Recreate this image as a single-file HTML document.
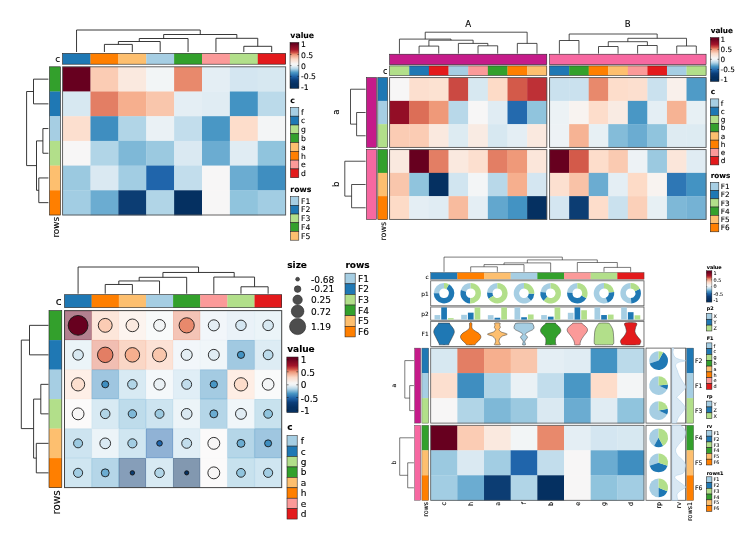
<!DOCTYPE html>
<html><head><meta charset="utf-8"><title>heatmaps</title>
<style>
html,body{margin:0;padding:0;background:#fff;}
svg{display:block;font-family:"DejaVu Sans","Liberation Sans",sans-serif;}
</style></head><body>
<svg width="750" height="533" viewBox="0 0 750 533">
<rect x="0" y="0" width="750" height="533" fill="#fff"/>
<rect x="62.60" y="53.40" width="28.08" height="10.80" fill="#1f78b4"/>
<rect x="90.48" y="53.40" width="28.08" height="10.80" fill="#ff7f00"/>
<rect x="118.36" y="53.40" width="28.08" height="10.80" fill="#fdbf6f"/>
<rect x="146.24" y="53.40" width="28.08" height="10.80" fill="#a6cee3"/>
<rect x="174.12" y="53.40" width="28.08" height="10.80" fill="#33a02c"/>
<rect x="202.00" y="53.40" width="28.08" height="10.80" fill="#fb9a99"/>
<rect x="229.88" y="53.40" width="28.08" height="10.80" fill="#b2df8a"/>
<rect x="257.76" y="53.40" width="28.08" height="10.80" fill="#e31a1c"/>
<rect x="62.60" y="53.40" width="223.04" height="10.80" fill="none" stroke="#222" stroke-width="0.6"/>
<rect x="49.50" y="66.80" width="10.90" height="24.90" fill="#33a02c"/>
<rect x="49.50" y="91.50" width="10.90" height="24.90" fill="#1f78b4"/>
<rect x="49.50" y="116.20" width="10.90" height="24.90" fill="#a6cee3"/>
<rect x="49.50" y="140.90" width="10.90" height="24.90" fill="#b2df8a"/>
<rect x="49.50" y="165.60" width="10.90" height="24.90" fill="#fdbf6f"/>
<rect x="49.50" y="190.30" width="10.90" height="24.90" fill="#ff7f00"/>
<rect x="49.50" y="66.80" width="10.90" height="148.20" fill="none" stroke="#222" stroke-width="0.6"/>
<rect x="62.60" y="66.80" width="28.18" height="25.00" fill="#67001f"/>
<rect x="90.48" y="66.80" width="28.18" height="25.00" fill="#fbccb4"/>
<rect x="118.36" y="66.80" width="28.18" height="25.00" fill="#fae9df"/>
<rect x="146.24" y="66.80" width="28.18" height="25.00" fill="#f2f5f6"/>
<rect x="174.12" y="66.80" width="28.18" height="25.00" fill="#e8896c"/>
<rect x="202.00" y="66.80" width="28.18" height="25.00" fill="#e4eef4"/>
<rect x="229.88" y="66.80" width="28.18" height="25.00" fill="#d4e6f1"/>
<rect x="257.76" y="66.80" width="28.18" height="25.00" fill="#d7e8f1"/>
<rect x="62.60" y="91.50" width="28.18" height="25.00" fill="#d7e8f1"/>
<rect x="90.48" y="91.50" width="28.18" height="25.00" fill="#e37e64"/>
<rect x="118.36" y="91.50" width="28.18" height="25.00" fill="#f6af8e"/>
<rect x="146.24" y="91.50" width="28.18" height="25.00" fill="#f9c6ac"/>
<rect x="174.12" y="91.50" width="28.18" height="25.00" fill="#e4eef4"/>
<rect x="202.00" y="91.50" width="28.18" height="25.00" fill="#e0ecf3"/>
<rect x="229.88" y="91.50" width="28.18" height="25.00" fill="#4393c3"/>
<rect x="257.76" y="91.50" width="28.18" height="25.00" fill="#bbdaea"/>
<rect x="62.60" y="116.20" width="28.18" height="25.00" fill="#fcdfcf"/>
<rect x="90.48" y="116.20" width="28.18" height="25.00" fill="#3f8ec0"/>
<rect x="118.36" y="116.20" width="28.18" height="25.00" fill="#b1d5e7"/>
<rect x="146.24" y="116.20" width="28.18" height="25.00" fill="#eaf1f5"/>
<rect x="174.12" y="116.20" width="28.18" height="25.00" fill="#c2ddec"/>
<rect x="202.00" y="116.20" width="28.18" height="25.00" fill="#4997c5"/>
<rect x="229.88" y="116.20" width="28.18" height="25.00" fill="#fdddcb"/>
<rect x="257.76" y="116.20" width="28.18" height="25.00" fill="#f3f5f6"/>
<rect x="62.60" y="140.90" width="28.18" height="25.00" fill="#f7f6f6"/>
<rect x="90.48" y="140.90" width="28.18" height="25.00" fill="#b1d5e7"/>
<rect x="118.36" y="140.90" width="28.18" height="25.00" fill="#7eb8d7"/>
<rect x="146.24" y="140.90" width="28.18" height="25.00" fill="#9bc9e0"/>
<rect x="174.12" y="140.90" width="28.18" height="25.00" fill="#dae9f2"/>
<rect x="202.00" y="140.90" width="28.18" height="25.00" fill="#6bacd1"/>
<rect x="229.88" y="140.90" width="28.18" height="25.00" fill="#e0ecf3"/>
<rect x="257.76" y="140.90" width="28.18" height="25.00" fill="#90c4dd"/>
<rect x="62.60" y="165.60" width="28.18" height="25.00" fill="#9bc9e0"/>
<rect x="90.48" y="165.60" width="28.18" height="25.00" fill="#dae9f2"/>
<rect x="118.36" y="165.60" width="28.18" height="25.00" fill="#a2cde3"/>
<rect x="146.24" y="165.60" width="28.18" height="25.00" fill="#2065ab"/>
<rect x="174.12" y="165.60" width="28.18" height="25.00" fill="#c2ddec"/>
<rect x="202.00" y="165.60" width="28.18" height="25.00" fill="#f7f6f6"/>
<rect x="229.88" y="165.60" width="28.18" height="25.00" fill="#6bacd1"/>
<rect x="257.76" y="165.60" width="28.18" height="25.00" fill="#3f8ec0"/>
<rect x="62.60" y="190.30" width="28.18" height="25.00" fill="#a2cde3"/>
<rect x="90.48" y="190.30" width="28.18" height="25.00" fill="#6bacd1"/>
<rect x="118.36" y="190.30" width="28.18" height="25.00" fill="#0c3d73"/>
<rect x="146.24" y="190.30" width="28.18" height="25.00" fill="#b1d5e7"/>
<rect x="174.12" y="190.30" width="28.18" height="25.00" fill="#053061"/>
<rect x="202.00" y="190.30" width="28.18" height="25.00" fill="#f7f6f6"/>
<rect x="229.88" y="190.30" width="28.18" height="25.00" fill="#90c4dd"/>
<rect x="257.76" y="190.30" width="28.18" height="25.00" fill="#a2cde3"/>
<rect x="62.60" y="66.80" width="223.04" height="148.20" fill="none" stroke="#555" stroke-width="0.9"/>
<path d="M104.42 52.00V44.40H132.30V52.00M118.36 44.40V41.50H160.18V52.00M139.27 41.50V38.50H188.06V52.00M243.82 52.00V46.30H271.70V52.00M215.94 52.00V38.30H257.76V46.30M163.67 38.50V34.50H236.85V38.30M76.54 52.00V30.00H200.26V34.50" fill="none" stroke="#222" stroke-width="0.9"/>
<path d="M48.40 79.15H33.50V103.85H48.40M48.40 128.55H42.90V153.25H48.40M48.40 177.95H38.80V202.65H48.40M42.90 140.90H36.50V190.30H38.80M33.50 91.50H26.60V165.60H36.50" fill="none" stroke="#222" stroke-width="0.9"/>
<text x="60.30" y="62.30" font-size="9.0" text-anchor="end" fill="#000" stroke="#000" stroke-width="0.11">c</text>
<text x="58.60" y="217.00" font-size="8.8" text-anchor="end" fill="#000" stroke="#000" stroke-width="0.11" transform="rotate(-90 58.60 217.00)">rows</text>
<text x="290.30" y="37.80" font-size="7.8" font-weight="bold" text-anchor="start" fill="#000" stroke="#000" stroke-width="0.09">value</text>
<defs><linearGradient id="cb1" x1="0" y1="0" x2="0" y2="1"><stop offset="0.000" stop-color="#67001f"/><stop offset="0.030" stop-color="#67001f"/><stop offset="0.156" stop-color="#a3142a"/><stop offset="0.220" stop-color="#d05045"/><stop offset="0.265" stop-color="#ee9677"/><stop offset="0.365" stop-color="#fbd9c7"/><stop offset="0.470" stop-color="#f6f6f6"/><stop offset="0.506" stop-color="#eef3f6"/><stop offset="0.573" stop-color="#b5d6e8"/><stop offset="0.656" stop-color="#4a97c5"/><stop offset="0.740" stop-color="#1f63a8"/><stop offset="0.820" stop-color="#0b3d78"/><stop offset="0.906" stop-color="#053061"/><stop offset="1.000" stop-color="#053061"/></linearGradient></defs>
<rect x="290.00" y="42.40" width="8.90" height="46.00" fill="url(#cb1)" stroke="#222" stroke-width="0.5"/>
<path d="M290.00 43.80h1.5M298.90 43.80h-1.5M290.00 54.50h1.5M298.90 54.50h-1.5M290.00 65.60h1.5M298.90 65.60h-1.5M290.00 76.40h1.5M298.90 76.40h-1.5M290.00 87.10h1.5M298.90 87.10h-1.5" fill="none" stroke="#111" stroke-width="0.5"/>
<text x="301.00" y="46.60" font-size="7.7" text-anchor="start" fill="#000" stroke="#000" stroke-width="0.09">1</text>
<text x="301.00" y="57.80" font-size="7.7" text-anchor="start" fill="#000" stroke="#000" stroke-width="0.09">0.5</text>
<text x="301.00" y="68.50" font-size="7.7" text-anchor="start" fill="#000" stroke="#000" stroke-width="0.09">0</text>
<text x="301.00" y="79.00" font-size="7.7" text-anchor="start" fill="#000" stroke="#000" stroke-width="0.09">-0.5</text>
<text x="301.00" y="90.10" font-size="7.7" text-anchor="start" fill="#000" stroke="#000" stroke-width="0.09">-1</text>
<text x="290.30" y="102.70" font-size="7.8" font-weight="bold" text-anchor="start" fill="#000" stroke="#000" stroke-width="0.09">c</text>
<rect x="290.50" y="107.40" width="8.30" height="8.79" fill="#a6cee3" stroke="#222" stroke-width="0.55"/>
<text x="301.00" y="114.57" font-size="7.7" text-anchor="start" fill="#000" stroke="#000" stroke-width="0.09">f</text>
<rect x="290.50" y="116.19" width="8.30" height="8.79" fill="#1f78b4" stroke="#222" stroke-width="0.55"/>
<text x="301.00" y="123.36" font-size="7.7" text-anchor="start" fill="#000" stroke="#000" stroke-width="0.09">c</text>
<rect x="290.50" y="124.98" width="8.30" height="8.79" fill="#b2df8a" stroke="#222" stroke-width="0.55"/>
<text x="301.00" y="132.15" font-size="7.7" text-anchor="start" fill="#000" stroke="#000" stroke-width="0.09">g</text>
<rect x="290.50" y="133.77" width="8.30" height="8.79" fill="#33a02c" stroke="#222" stroke-width="0.55"/>
<text x="301.00" y="140.94" font-size="7.7" text-anchor="start" fill="#000" stroke="#000" stroke-width="0.09">b</text>
<rect x="290.50" y="142.56" width="8.30" height="8.79" fill="#fdbf6f" stroke="#222" stroke-width="0.55"/>
<text x="301.00" y="149.73" font-size="7.7" text-anchor="start" fill="#000" stroke="#000" stroke-width="0.09">a</text>
<rect x="290.50" y="151.35" width="8.30" height="8.79" fill="#ff7f00" stroke="#222" stroke-width="0.55"/>
<text x="301.00" y="158.52" font-size="7.7" text-anchor="start" fill="#000" stroke="#000" stroke-width="0.09">h</text>
<rect x="290.50" y="160.14" width="8.30" height="8.79" fill="#fb9a99" stroke="#222" stroke-width="0.55"/>
<text x="301.00" y="167.31" font-size="7.7" text-anchor="start" fill="#000" stroke="#000" stroke-width="0.09">e</text>
<rect x="290.50" y="168.93" width="8.30" height="8.79" fill="#e31a1c" stroke="#222" stroke-width="0.55"/>
<text x="301.00" y="176.10" font-size="7.7" text-anchor="start" fill="#000" stroke="#000" stroke-width="0.09">d</text>
<text x="290.30" y="191.60" font-size="7.8" font-weight="bold" text-anchor="start" fill="#000" stroke="#000" stroke-width="0.09">rows</text>
<rect x="290.50" y="196.60" width="8.30" height="8.72" fill="#a6cee3" stroke="#222" stroke-width="0.55"/>
<text x="301.00" y="203.73" font-size="7.7" text-anchor="start" fill="#000" stroke="#000" stroke-width="0.09">F1</text>
<rect x="290.50" y="205.32" width="8.30" height="8.72" fill="#1f78b4" stroke="#222" stroke-width="0.55"/>
<text x="301.00" y="212.45" font-size="7.7" text-anchor="start" fill="#000" stroke="#000" stroke-width="0.09">F2</text>
<rect x="290.50" y="214.04" width="8.30" height="8.72" fill="#b2df8a" stroke="#222" stroke-width="0.55"/>
<text x="301.00" y="221.17" font-size="7.7" text-anchor="start" fill="#000" stroke="#000" stroke-width="0.09">F3</text>
<rect x="290.50" y="222.76" width="8.30" height="8.72" fill="#33a02c" stroke="#222" stroke-width="0.55"/>
<text x="301.00" y="229.89" font-size="7.7" text-anchor="start" fill="#000" stroke="#000" stroke-width="0.09">F4</text>
<rect x="290.50" y="231.48" width="8.30" height="8.72" fill="#fdbf6f" stroke="#222" stroke-width="0.55"/>
<text x="301.00" y="238.61" font-size="7.7" text-anchor="start" fill="#000" stroke="#000" stroke-width="0.09">F5</text>
<rect x="389.60" y="54.20" width="157.20" height="10.50" fill="#c51b8a" stroke="#222" stroke-width="0.55"/>
<rect x="549.60" y="54.20" width="156.48" height="10.50" fill="#f768a1" stroke="#222" stroke-width="0.55"/>
<rect x="389.60" y="65.90" width="19.85" height="9.50" fill="#b2df8a"/>
<rect x="409.25" y="65.90" width="19.85" height="9.50" fill="#1f78b4"/>
<rect x="428.90" y="65.90" width="19.85" height="9.50" fill="#e31a1c"/>
<rect x="448.55" y="65.90" width="19.85" height="9.50" fill="#a6cee3"/>
<rect x="468.20" y="65.90" width="19.85" height="9.50" fill="#fb9a99"/>
<rect x="487.85" y="65.90" width="19.85" height="9.50" fill="#33a02c"/>
<rect x="507.50" y="65.90" width="19.85" height="9.50" fill="#ff7f00"/>
<rect x="527.15" y="65.90" width="19.85" height="9.50" fill="#fdbf6f"/>
<rect x="549.60" y="65.90" width="19.76" height="9.50" fill="#1f78b4"/>
<rect x="569.16" y="65.90" width="19.76" height="9.50" fill="#33a02c"/>
<rect x="588.72" y="65.90" width="19.76" height="9.50" fill="#ff7f00"/>
<rect x="608.28" y="65.90" width="19.76" height="9.50" fill="#fdbf6f"/>
<rect x="627.84" y="65.90" width="19.76" height="9.50" fill="#fb9a99"/>
<rect x="647.40" y="65.90" width="19.76" height="9.50" fill="#e31a1c"/>
<rect x="666.96" y="65.90" width="19.76" height="9.50" fill="#a6cee3"/>
<rect x="686.52" y="65.90" width="19.76" height="9.50" fill="#b2df8a"/>
<rect x="389.60" y="65.90" width="157.20" height="9.50" fill="none" stroke="#222" stroke-width="0.55"/>
<rect x="549.60" y="65.90" width="156.48" height="9.50" fill="none" stroke="#222" stroke-width="0.55"/>
<rect x="366.50" y="77.60" width="9.90" height="69.81" fill="#c51b8a" stroke="#222" stroke-width="0.55"/>
<rect x="377.80" y="77.60" width="9.70" height="23.47" fill="#1f78b4"/>
<rect x="389.60" y="77.60" width="19.95" height="23.57" fill="#f7f6f6"/>
<rect x="549.60" y="77.60" width="19.86" height="23.57" fill="#cae1ee"/>
<rect x="409.25" y="77.60" width="19.95" height="23.57" fill="#fcdfcf"/>
<rect x="569.16" y="77.60" width="19.86" height="23.57" fill="#cae1ee"/>
<rect x="428.90" y="77.60" width="19.95" height="23.57" fill="#fce2d2"/>
<rect x="588.72" y="77.60" width="19.86" height="23.57" fill="#e8896c"/>
<rect x="448.55" y="77.60" width="19.95" height="23.57" fill="#cb4942"/>
<rect x="608.28" y="77.60" width="19.86" height="23.57" fill="#fdddcb"/>
<rect x="468.20" y="77.60" width="19.95" height="23.57" fill="#d7e8f1"/>
<rect x="627.84" y="77.60" width="19.86" height="23.57" fill="#fcdfcf"/>
<rect x="487.85" y="77.60" width="19.95" height="23.57" fill="#fddbc7"/>
<rect x="647.40" y="77.60" width="19.86" height="23.57" fill="#cae1ee"/>
<rect x="507.50" y="77.60" width="19.95" height="23.57" fill="#d35a4a"/>
<rect x="666.96" y="77.60" width="19.86" height="23.57" fill="#f9f0eb"/>
<rect x="527.15" y="77.60" width="19.95" height="23.57" fill="#be3036"/>
<rect x="686.52" y="77.60" width="19.86" height="23.57" fill="#4f9bc7"/>
<rect x="377.80" y="100.87" width="9.70" height="23.47" fill="#a6cee3"/>
<rect x="389.60" y="100.87" width="19.95" height="23.57" fill="#930e26"/>
<rect x="549.60" y="100.87" width="19.86" height="23.57" fill="#ecf2f5"/>
<rect x="409.25" y="100.87" width="19.95" height="23.57" fill="#dc6e57"/>
<rect x="569.16" y="100.87" width="19.86" height="23.57" fill="#f8f3f0"/>
<rect x="428.90" y="100.87" width="19.95" height="23.57" fill="#ef9979"/>
<rect x="588.72" y="100.87" width="19.86" height="23.57" fill="#fdddcb"/>
<rect x="448.55" y="100.87" width="19.95" height="23.57" fill="#b8d8e9"/>
<rect x="608.28" y="100.87" width="19.86" height="23.57" fill="#f9ebe3"/>
<rect x="468.20" y="100.87" width="19.95" height="23.57" fill="#f7f6f6"/>
<rect x="627.84" y="100.87" width="19.86" height="23.57" fill="#4997c5"/>
<rect x="487.85" y="100.87" width="19.95" height="23.57" fill="#e0ecf3"/>
<rect x="647.40" y="100.87" width="19.86" height="23.57" fill="#e4eef4"/>
<rect x="507.50" y="100.87" width="19.95" height="23.57" fill="#246aae"/>
<rect x="666.96" y="100.87" width="19.86" height="23.57" fill="#f6b394"/>
<rect x="527.15" y="100.87" width="19.95" height="23.57" fill="#90c4dd"/>
<rect x="686.52" y="100.87" width="19.86" height="23.57" fill="#e7f0f4"/>
<rect x="377.80" y="124.14" width="9.70" height="23.47" fill="#b2df8a"/>
<rect x="389.60" y="124.14" width="19.95" height="23.57" fill="#fbccb4"/>
<rect x="549.60" y="124.14" width="19.86" height="23.57" fill="#edf2f5"/>
<rect x="409.25" y="124.14" width="19.95" height="23.57" fill="#fbccb4"/>
<rect x="569.16" y="124.14" width="19.86" height="23.57" fill="#f6b394"/>
<rect x="428.90" y="124.14" width="19.95" height="23.57" fill="#fae9df"/>
<rect x="588.72" y="124.14" width="19.86" height="23.57" fill="#e7f0f4"/>
<rect x="448.55" y="124.14" width="19.95" height="23.57" fill="#ddebf2"/>
<rect x="608.28" y="124.14" width="19.86" height="23.57" fill="#84bcd9"/>
<rect x="468.20" y="124.14" width="19.95" height="23.57" fill="#f9ebe3"/>
<rect x="627.84" y="124.14" width="19.86" height="23.57" fill="#6bacd1"/>
<rect x="487.85" y="124.14" width="19.95" height="23.57" fill="#d7e8f1"/>
<rect x="647.40" y="124.14" width="19.86" height="23.57" fill="#90c4dd"/>
<rect x="507.50" y="124.14" width="19.95" height="23.57" fill="#e4eef4"/>
<rect x="666.96" y="124.14" width="19.86" height="23.57" fill="#deebf2"/>
<rect x="527.15" y="124.14" width="19.95" height="23.57" fill="#fae9df"/>
<rect x="686.52" y="124.14" width="19.86" height="23.57" fill="#ddebf2"/>
<rect x="377.80" y="77.60" width="9.70" height="69.81" fill="none" stroke="#222" stroke-width="0.55"/>
<rect x="389.60" y="77.60" width="157.20" height="69.81" fill="none" stroke="#555" stroke-width="0.9"/>
<rect x="549.60" y="77.60" width="156.48" height="69.81" fill="none" stroke="#555" stroke-width="0.9"/>
<rect x="366.50" y="149.60" width="9.90" height="69.81" fill="#f768a1" stroke="#222" stroke-width="0.55"/>
<rect x="377.80" y="149.60" width="9.70" height="23.47" fill="#33a02c"/>
<rect x="389.60" y="149.60" width="19.95" height="23.57" fill="#fae9df"/>
<rect x="549.60" y="149.60" width="19.86" height="23.57" fill="#67001f"/>
<rect x="409.25" y="149.60" width="19.95" height="23.57" fill="#67001f"/>
<rect x="569.16" y="149.60" width="19.86" height="23.57" fill="#d35a4a"/>
<rect x="428.90" y="149.60" width="19.95" height="23.57" fill="#e37e64"/>
<rect x="588.72" y="149.60" width="19.86" height="23.57" fill="#fdddcb"/>
<rect x="448.55" y="149.60" width="19.95" height="23.57" fill="#fae9df"/>
<rect x="608.28" y="149.60" width="19.86" height="23.57" fill="#facab1"/>
<rect x="468.20" y="149.60" width="19.95" height="23.57" fill="#fcdfcf"/>
<rect x="627.84" y="149.60" width="19.86" height="23.57" fill="#edf2f5"/>
<rect x="487.85" y="149.60" width="19.95" height="23.57" fill="#e37e64"/>
<rect x="647.40" y="149.60" width="19.86" height="23.57" fill="#9bc9e0"/>
<rect x="507.50" y="149.60" width="19.95" height="23.57" fill="#ef9979"/>
<rect x="666.96" y="149.60" width="19.86" height="23.57" fill="#fbe6da"/>
<rect x="527.15" y="149.60" width="19.95" height="23.57" fill="#fbe6da"/>
<rect x="686.52" y="149.60" width="19.86" height="23.57" fill="#e0ecf3"/>
<rect x="377.80" y="172.87" width="9.70" height="23.47" fill="#fdbf6f"/>
<rect x="389.60" y="172.87" width="19.95" height="23.57" fill="#f9c6ac"/>
<rect x="549.60" y="172.87" width="19.86" height="23.57" fill="#fce0d0"/>
<rect x="409.25" y="172.87" width="19.95" height="23.57" fill="#90c4dd"/>
<rect x="569.16" y="172.87" width="19.86" height="23.57" fill="#f9c2a7"/>
<rect x="428.90" y="172.87" width="19.95" height="23.57" fill="#053061"/>
<rect x="588.72" y="172.87" width="19.86" height="23.57" fill="#6bacd1"/>
<rect x="448.55" y="172.87" width="19.95" height="23.57" fill="#d1e5f0"/>
<rect x="608.28" y="172.87" width="19.86" height="23.57" fill="#e4eef4"/>
<rect x="468.20" y="172.87" width="19.95" height="23.57" fill="#f3f5f6"/>
<rect x="627.84" y="172.87" width="19.86" height="23.57" fill="#fddbc7"/>
<rect x="487.85" y="172.87" width="19.95" height="23.57" fill="#b8d8e9"/>
<rect x="647.40" y="172.87" width="19.86" height="23.57" fill="#f8f3f0"/>
<rect x="507.50" y="172.87" width="19.95" height="23.57" fill="#f6af8e"/>
<rect x="666.96" y="172.87" width="19.86" height="23.57" fill="#2e77b5"/>
<rect x="527.15" y="172.87" width="19.95" height="23.57" fill="#d4e6f1"/>
<rect x="686.52" y="172.87" width="19.86" height="23.57" fill="#4393c3"/>
<rect x="377.80" y="196.14" width="9.70" height="23.47" fill="#ff7f00"/>
<rect x="389.60" y="196.14" width="19.95" height="23.57" fill="#fddbc7"/>
<rect x="549.60" y="196.14" width="19.86" height="23.57" fill="#d4e6f1"/>
<rect x="409.25" y="196.14" width="19.95" height="23.57" fill="#e4eef4"/>
<rect x="569.16" y="196.14" width="19.86" height="23.57" fill="#0c3d73"/>
<rect x="428.90" y="196.14" width="19.95" height="23.57" fill="#e0ecf3"/>
<rect x="588.72" y="196.14" width="19.86" height="23.57" fill="#fdddcb"/>
<rect x="448.55" y="196.14" width="19.95" height="23.57" fill="#f8bb9e"/>
<rect x="608.28" y="196.14" width="19.86" height="23.57" fill="#cae1ee"/>
<rect x="468.20" y="196.14" width="19.95" height="23.57" fill="#e4eef4"/>
<rect x="627.84" y="196.14" width="19.86" height="23.57" fill="#fbd0b9"/>
<rect x="487.85" y="196.14" width="19.95" height="23.57" fill="#62a7ce"/>
<rect x="647.40" y="196.14" width="19.86" height="23.57" fill="#e7f0f4"/>
<rect x="507.50" y="196.14" width="19.95" height="23.57" fill="#4393c3"/>
<rect x="666.96" y="196.14" width="19.86" height="23.57" fill="#7eb8d7"/>
<rect x="527.15" y="196.14" width="19.95" height="23.57" fill="#053061"/>
<rect x="686.52" y="196.14" width="19.86" height="23.57" fill="#75b2d4"/>
<rect x="377.80" y="149.60" width="9.70" height="69.81" fill="none" stroke="#222" stroke-width="0.55"/>
<rect x="389.60" y="149.60" width="157.20" height="69.81" fill="none" stroke="#555" stroke-width="0.9"/>
<rect x="549.60" y="149.60" width="156.48" height="69.81" fill="none" stroke="#555" stroke-width="0.9"/>
<path d="M419.08 53.60V46.10H438.73V53.60M478.03 53.60V45.80H497.68V53.60M458.38 53.60V43.40H487.85V45.80M428.90 46.10V40.20H473.11V43.40M399.43 53.60V39.10H451.01V40.20M517.33 53.60V43.40H536.98V53.60M425.22 39.10V32.20H527.15V43.40" fill="none" stroke="#222" stroke-width="0.8"/>
<path d="M559.38 53.60V40.50H578.94V53.60M598.50 53.60V46.50H618.06V53.60M637.62 53.60V45.50H657.18V53.60M608.28 46.50V41.70H647.40V45.50M676.74 53.60V46.00H696.30V53.60M627.84 41.70V38.30H686.52V46.00M569.16 40.50V34.00H657.18V38.30" fill="none" stroke="#222" stroke-width="0.8"/>
<path d="M365.60 112.50H356.60V135.77H365.60M365.60 89.23H350.50V124.14H356.60" fill="none" stroke="#222" stroke-width="0.8"/>
<path d="M365.60 184.50H351.60V207.77H365.60M365.60 161.23H344.80V196.14H351.60" fill="none" stroke="#222" stroke-width="0.8"/>
<text x="468.10" y="26.80" font-size="8.6" text-anchor="middle" fill="#000" stroke="#000" stroke-width="0.10">A</text>
<text x="627.80" y="26.80" font-size="8.6" text-anchor="middle" fill="#000" stroke="#000" stroke-width="0.10">B</text>
<text x="387.40" y="73.70" font-size="8.1" text-anchor="end" fill="#000" stroke="#000" stroke-width="0.10">c</text>
<text x="385.80" y="222.00" font-size="7.9" text-anchor="end" fill="#000" stroke="#000" stroke-width="0.09" transform="rotate(-90 385.80 222.00)">rows</text>
<text x="339.10" y="112.20" font-size="8.6" text-anchor="middle" fill="#000" stroke="#000" stroke-width="0.10" transform="rotate(-90 339.10 112.20)">a</text>
<text x="339.10" y="184.20" font-size="8.6" text-anchor="middle" fill="#000" stroke="#000" stroke-width="0.10" transform="rotate(-90 339.10 184.20)">b</text>
<text x="710.70" y="32.80" font-size="7.3" font-weight="bold" text-anchor="start" fill="#000" stroke="#000" stroke-width="0.09">value</text>
<defs><linearGradient id="cb2" x1="0" y1="0" x2="0" y2="1"><stop offset="0.000" stop-color="#67001f"/><stop offset="0.030" stop-color="#67001f"/><stop offset="0.156" stop-color="#a3142a"/><stop offset="0.220" stop-color="#d05045"/><stop offset="0.265" stop-color="#ee9677"/><stop offset="0.365" stop-color="#fbd9c7"/><stop offset="0.470" stop-color="#f6f6f6"/><stop offset="0.506" stop-color="#eef3f6"/><stop offset="0.573" stop-color="#b5d6e8"/><stop offset="0.656" stop-color="#4a97c5"/><stop offset="0.740" stop-color="#1f63a8"/><stop offset="0.820" stop-color="#0b3d78"/><stop offset="0.906" stop-color="#053061"/><stop offset="1.000" stop-color="#053061"/></linearGradient></defs>
<rect x="710.30" y="37.50" width="8.70" height="44.00" fill="url(#cb2)" stroke="#222" stroke-width="0.5"/>
<path d="M710.30 39.60h1.5M719.00 39.60h-1.5M710.30 49.40h1.5M719.00 49.40h-1.5M710.30 59.30h1.5M719.00 59.30h-1.5M710.30 69.50h1.5M719.00 69.50h-1.5M710.30 79.80h1.5M719.00 79.80h-1.5" fill="none" stroke="#111" stroke-width="0.5"/>
<text x="720.60" y="42.25" font-size="7.3" text-anchor="start" fill="#000" stroke="#000" stroke-width="0.09">1</text>
<text x="720.60" y="52.05" font-size="7.3" text-anchor="start" fill="#000" stroke="#000" stroke-width="0.09">0.5</text>
<text x="720.60" y="61.95" font-size="7.3" text-anchor="start" fill="#000" stroke="#000" stroke-width="0.09">0</text>
<text x="720.60" y="72.15" font-size="7.3" text-anchor="start" fill="#000" stroke="#000" stroke-width="0.09">-0.5</text>
<text x="720.60" y="82.45" font-size="7.3" text-anchor="start" fill="#000" stroke="#000" stroke-width="0.09">-1</text>
<text x="710.70" y="94.10" font-size="7.3" font-weight="bold" text-anchor="start" fill="#000" stroke="#000" stroke-width="0.09">c</text>
<rect x="710.30" y="98.90" width="8.50" height="8.25" fill="#a6cee3" stroke="#222" stroke-width="0.55"/>
<text x="720.70" y="105.65" font-size="7.3" text-anchor="start" fill="#000" stroke="#000" stroke-width="0.09">f</text>
<rect x="710.30" y="107.15" width="8.50" height="8.25" fill="#1f78b4" stroke="#222" stroke-width="0.55"/>
<text x="720.70" y="113.90" font-size="7.3" text-anchor="start" fill="#000" stroke="#000" stroke-width="0.09">c</text>
<rect x="710.30" y="115.40" width="8.50" height="8.25" fill="#b2df8a" stroke="#222" stroke-width="0.55"/>
<text x="720.70" y="122.15" font-size="7.3" text-anchor="start" fill="#000" stroke="#000" stroke-width="0.09">g</text>
<rect x="710.30" y="123.65" width="8.50" height="8.25" fill="#33a02c" stroke="#222" stroke-width="0.55"/>
<text x="720.70" y="130.40" font-size="7.3" text-anchor="start" fill="#000" stroke="#000" stroke-width="0.09">b</text>
<rect x="710.30" y="131.90" width="8.50" height="8.25" fill="#fdbf6f" stroke="#222" stroke-width="0.55"/>
<text x="720.70" y="138.65" font-size="7.3" text-anchor="start" fill="#000" stroke="#000" stroke-width="0.09">a</text>
<rect x="710.30" y="140.15" width="8.50" height="8.25" fill="#ff7f00" stroke="#222" stroke-width="0.55"/>
<text x="720.70" y="146.90" font-size="7.3" text-anchor="start" fill="#000" stroke="#000" stroke-width="0.09">h</text>
<rect x="710.30" y="148.40" width="8.50" height="8.25" fill="#fb9a99" stroke="#222" stroke-width="0.55"/>
<text x="720.70" y="155.15" font-size="7.3" text-anchor="start" fill="#000" stroke="#000" stroke-width="0.09">e</text>
<rect x="710.30" y="156.65" width="8.50" height="8.25" fill="#e31a1c" stroke="#222" stroke-width="0.55"/>
<text x="720.70" y="163.40" font-size="7.3" text-anchor="start" fill="#000" stroke="#000" stroke-width="0.09">d</text>
<text x="710.70" y="178.00" font-size="7.3" font-weight="bold" text-anchor="start" fill="#000" stroke="#000" stroke-width="0.09">rows</text>
<rect x="710.30" y="182.30" width="8.50" height="8.25" fill="#a6cee3" stroke="#222" stroke-width="0.55"/>
<text x="720.70" y="189.05" font-size="7.3" text-anchor="start" fill="#000" stroke="#000" stroke-width="0.09">F1</text>
<rect x="710.30" y="190.55" width="8.50" height="8.25" fill="#1f78b4" stroke="#222" stroke-width="0.55"/>
<text x="720.70" y="197.30" font-size="7.3" text-anchor="start" fill="#000" stroke="#000" stroke-width="0.09">F2</text>
<rect x="710.30" y="198.80" width="8.50" height="8.25" fill="#b2df8a" stroke="#222" stroke-width="0.55"/>
<text x="720.70" y="205.55" font-size="7.3" text-anchor="start" fill="#000" stroke="#000" stroke-width="0.09">F3</text>
<rect x="710.30" y="207.05" width="8.50" height="8.25" fill="#33a02c" stroke="#222" stroke-width="0.55"/>
<text x="720.70" y="213.80" font-size="7.3" text-anchor="start" fill="#000" stroke="#000" stroke-width="0.09">F4</text>
<rect x="710.30" y="215.30" width="8.50" height="8.25" fill="#fdbf6f" stroke="#222" stroke-width="0.55"/>
<text x="720.70" y="222.05" font-size="7.3" text-anchor="start" fill="#000" stroke="#000" stroke-width="0.09">F5</text>
<rect x="710.30" y="223.55" width="8.50" height="8.25" fill="#ff7f00" stroke="#222" stroke-width="0.55"/>
<text x="720.70" y="230.30" font-size="7.3" text-anchor="start" fill="#000" stroke="#000" stroke-width="0.09">F6</text>
<rect x="64.50" y="294.70" width="27.35" height="12.90" fill="#1f78b4"/>
<rect x="91.65" y="294.70" width="27.35" height="12.90" fill="#ff7f00"/>
<rect x="118.80" y="294.70" width="27.35" height="12.90" fill="#fdbf6f"/>
<rect x="145.95" y="294.70" width="27.35" height="12.90" fill="#a6cee3"/>
<rect x="173.10" y="294.70" width="27.35" height="12.90" fill="#33a02c"/>
<rect x="200.25" y="294.70" width="27.35" height="12.90" fill="#fb9a99"/>
<rect x="227.40" y="294.70" width="27.35" height="12.90" fill="#b2df8a"/>
<rect x="254.55" y="294.70" width="27.35" height="12.90" fill="#e31a1c"/>
<rect x="64.50" y="294.70" width="217.20" height="12.90" fill="none" stroke="#222" stroke-width="0.6"/>
<rect x="49.00" y="310.60" width="12.80" height="29.70" fill="#33a02c"/>
<rect x="49.00" y="340.10" width="12.80" height="29.70" fill="#1f78b4"/>
<rect x="49.00" y="369.60" width="12.80" height="29.70" fill="#a6cee3"/>
<rect x="49.00" y="399.10" width="12.80" height="29.70" fill="#b2df8a"/>
<rect x="49.00" y="428.60" width="12.80" height="29.70" fill="#fdbf6f"/>
<rect x="49.00" y="458.10" width="12.80" height="29.70" fill="#ff7f00"/>
<rect x="49.00" y="310.60" width="12.80" height="177.00" fill="none" stroke="#222" stroke-width="0.6"/>
<rect x="64.50" y="310.60" width="27.45" height="29.80" fill="#b3808f"/>
<rect x="91.65" y="310.60" width="27.45" height="29.80" fill="#fde6da"/>
<rect x="118.80" y="310.60" width="27.45" height="29.80" fill="#fcf4ef"/>
<rect x="145.95" y="310.60" width="27.45" height="29.80" fill="#f8fafa"/>
<rect x="173.10" y="310.60" width="27.45" height="29.80" fill="#f4c4b6"/>
<rect x="200.25" y="310.60" width="27.45" height="29.80" fill="#f2f6fa"/>
<rect x="227.40" y="310.60" width="27.45" height="29.80" fill="#eaf2f8"/>
<rect x="254.55" y="310.60" width="27.45" height="29.80" fill="#ebf4f8"/>
<rect x="64.50" y="340.10" width="27.45" height="29.80" fill="#ebf4f8"/>
<rect x="91.65" y="340.10" width="27.45" height="29.80" fill="#f1beb2"/>
<rect x="118.80" y="340.10" width="27.45" height="29.80" fill="#fad7c6"/>
<rect x="145.95" y="340.10" width="27.45" height="29.80" fill="#fce2d6"/>
<rect x="173.10" y="340.10" width="27.45" height="29.80" fill="#f2f6fa"/>
<rect x="200.25" y="340.10" width="27.45" height="29.80" fill="#f0f6f9"/>
<rect x="227.40" y="340.10" width="27.45" height="29.80" fill="#a1c9e1"/>
<rect x="254.55" y="340.10" width="27.45" height="29.80" fill="#ddecf4"/>
<rect x="64.50" y="369.60" width="27.45" height="29.80" fill="#feefe7"/>
<rect x="91.65" y="369.60" width="27.45" height="29.80" fill="#9fc6e0"/>
<rect x="118.80" y="369.60" width="27.45" height="29.80" fill="#d8eaf3"/>
<rect x="145.95" y="369.60" width="27.45" height="29.80" fill="#f4f8fa"/>
<rect x="173.10" y="369.60" width="27.45" height="29.80" fill="#e0eef6"/>
<rect x="200.25" y="369.60" width="27.45" height="29.80" fill="#a4cbe2"/>
<rect x="227.40" y="369.60" width="27.45" height="29.80" fill="#feeee5"/>
<rect x="254.55" y="369.60" width="27.45" height="29.80" fill="#f9fafa"/>
<rect x="64.50" y="399.10" width="27.45" height="29.80" fill="#fbfafa"/>
<rect x="91.65" y="399.10" width="27.45" height="29.80" fill="#d8eaf3"/>
<rect x="118.80" y="399.10" width="27.45" height="29.80" fill="#bedceb"/>
<rect x="145.95" y="399.10" width="27.45" height="29.80" fill="#cde4f0"/>
<rect x="173.10" y="399.10" width="27.45" height="29.80" fill="#ecf4f8"/>
<rect x="200.25" y="399.10" width="27.45" height="29.80" fill="#b5d6e8"/>
<rect x="227.40" y="399.10" width="27.45" height="29.80" fill="#f0f6f9"/>
<rect x="254.55" y="399.10" width="27.45" height="29.80" fill="#c8e2ee"/>
<rect x="64.50" y="428.60" width="27.45" height="29.80" fill="#cde4f0"/>
<rect x="91.65" y="428.60" width="27.45" height="29.80" fill="#ecf4f8"/>
<rect x="118.80" y="428.60" width="27.45" height="29.80" fill="#d0e6f1"/>
<rect x="145.95" y="428.60" width="27.45" height="29.80" fill="#90b2d5"/>
<rect x="173.10" y="428.60" width="27.45" height="29.80" fill="#e0eef6"/>
<rect x="200.25" y="428.60" width="27.45" height="29.80" fill="#fbfafa"/>
<rect x="227.40" y="428.60" width="27.45" height="29.80" fill="#b5d6e8"/>
<rect x="254.55" y="428.60" width="27.45" height="29.80" fill="#9fc6e0"/>
<rect x="64.50" y="458.10" width="27.45" height="29.80" fill="#d0e6f1"/>
<rect x="91.65" y="458.10" width="27.45" height="29.80" fill="#b5d6e8"/>
<rect x="118.80" y="458.10" width="27.45" height="29.80" fill="#869eb9"/>
<rect x="145.95" y="458.10" width="27.45" height="29.80" fill="#d8eaf3"/>
<rect x="173.10" y="458.10" width="27.45" height="29.80" fill="#8298b0"/>
<rect x="200.25" y="458.10" width="27.45" height="29.80" fill="#fbfafa"/>
<rect x="227.40" y="458.10" width="27.45" height="29.80" fill="#c8e2ee"/>
<rect x="254.55" y="458.10" width="27.45" height="29.80" fill="#d0e6f1"/>
<rect x="64.80" y="310.90" width="26.55" height="28.90" fill="none" stroke="#67001f" stroke-width="0.6" stroke-opacity="0.35"/>
<rect x="91.95" y="310.90" width="26.55" height="28.90" fill="none" stroke="#fbccb4" stroke-width="0.6" stroke-opacity="0.35"/>
<rect x="119.10" y="310.90" width="26.55" height="28.90" fill="none" stroke="#fae9df" stroke-width="0.6" stroke-opacity="0.35"/>
<rect x="146.25" y="310.90" width="26.55" height="28.90" fill="none" stroke="#f2f5f6" stroke-width="0.6" stroke-opacity="0.35"/>
<rect x="173.40" y="310.90" width="26.55" height="28.90" fill="none" stroke="#e8896c" stroke-width="0.6" stroke-opacity="0.35"/>
<rect x="200.55" y="310.90" width="26.55" height="28.90" fill="none" stroke="#e4eef4" stroke-width="0.6" stroke-opacity="0.35"/>
<rect x="227.70" y="310.90" width="26.55" height="28.90" fill="none" stroke="#d4e6f1" stroke-width="0.6" stroke-opacity="0.35"/>
<rect x="254.85" y="310.90" width="26.55" height="28.90" fill="none" stroke="#d7e8f1" stroke-width="0.6" stroke-opacity="0.35"/>
<rect x="64.80" y="340.40" width="26.55" height="28.90" fill="none" stroke="#d7e8f1" stroke-width="0.6" stroke-opacity="0.35"/>
<rect x="91.95" y="340.40" width="26.55" height="28.90" fill="none" stroke="#e37e64" stroke-width="0.6" stroke-opacity="0.35"/>
<rect x="119.10" y="340.40" width="26.55" height="28.90" fill="none" stroke="#f6af8e" stroke-width="0.6" stroke-opacity="0.35"/>
<rect x="146.25" y="340.40" width="26.55" height="28.90" fill="none" stroke="#f9c6ac" stroke-width="0.6" stroke-opacity="0.35"/>
<rect x="173.40" y="340.40" width="26.55" height="28.90" fill="none" stroke="#e4eef4" stroke-width="0.6" stroke-opacity="0.35"/>
<rect x="200.55" y="340.40" width="26.55" height="28.90" fill="none" stroke="#e0ecf3" stroke-width="0.6" stroke-opacity="0.35"/>
<rect x="227.70" y="340.40" width="26.55" height="28.90" fill="none" stroke="#4393c3" stroke-width="0.6" stroke-opacity="0.35"/>
<rect x="254.85" y="340.40" width="26.55" height="28.90" fill="none" stroke="#bbdaea" stroke-width="0.6" stroke-opacity="0.35"/>
<rect x="64.80" y="369.90" width="26.55" height="28.90" fill="none" stroke="#fcdfcf" stroke-width="0.6" stroke-opacity="0.35"/>
<rect x="91.95" y="369.90" width="26.55" height="28.90" fill="none" stroke="#3f8ec0" stroke-width="0.6" stroke-opacity="0.35"/>
<rect x="119.10" y="369.90" width="26.55" height="28.90" fill="none" stroke="#b1d5e7" stroke-width="0.6" stroke-opacity="0.35"/>
<rect x="146.25" y="369.90" width="26.55" height="28.90" fill="none" stroke="#eaf1f5" stroke-width="0.6" stroke-opacity="0.35"/>
<rect x="173.40" y="369.90" width="26.55" height="28.90" fill="none" stroke="#c2ddec" stroke-width="0.6" stroke-opacity="0.35"/>
<rect x="200.55" y="369.90" width="26.55" height="28.90" fill="none" stroke="#4997c5" stroke-width="0.6" stroke-opacity="0.35"/>
<rect x="227.70" y="369.90" width="26.55" height="28.90" fill="none" stroke="#fdddcb" stroke-width="0.6" stroke-opacity="0.35"/>
<rect x="254.85" y="369.90" width="26.55" height="28.90" fill="none" stroke="#f3f5f6" stroke-width="0.6" stroke-opacity="0.35"/>
<rect x="64.80" y="399.40" width="26.55" height="28.90" fill="none" stroke="#f7f6f6" stroke-width="0.6" stroke-opacity="0.35"/>
<rect x="91.95" y="399.40" width="26.55" height="28.90" fill="none" stroke="#b1d5e7" stroke-width="0.6" stroke-opacity="0.35"/>
<rect x="119.10" y="399.40" width="26.55" height="28.90" fill="none" stroke="#7eb8d7" stroke-width="0.6" stroke-opacity="0.35"/>
<rect x="146.25" y="399.40" width="26.55" height="28.90" fill="none" stroke="#9bc9e0" stroke-width="0.6" stroke-opacity="0.35"/>
<rect x="173.40" y="399.40" width="26.55" height="28.90" fill="none" stroke="#dae9f2" stroke-width="0.6" stroke-opacity="0.35"/>
<rect x="200.55" y="399.40" width="26.55" height="28.90" fill="none" stroke="#6bacd1" stroke-width="0.6" stroke-opacity="0.35"/>
<rect x="227.70" y="399.40" width="26.55" height="28.90" fill="none" stroke="#e0ecf3" stroke-width="0.6" stroke-opacity="0.35"/>
<rect x="254.85" y="399.40" width="26.55" height="28.90" fill="none" stroke="#90c4dd" stroke-width="0.6" stroke-opacity="0.35"/>
<rect x="64.80" y="428.90" width="26.55" height="28.90" fill="none" stroke="#9bc9e0" stroke-width="0.6" stroke-opacity="0.35"/>
<rect x="91.95" y="428.90" width="26.55" height="28.90" fill="none" stroke="#dae9f2" stroke-width="0.6" stroke-opacity="0.35"/>
<rect x="119.10" y="428.90" width="26.55" height="28.90" fill="none" stroke="#a2cde3" stroke-width="0.6" stroke-opacity="0.35"/>
<rect x="146.25" y="428.90" width="26.55" height="28.90" fill="none" stroke="#2065ab" stroke-width="0.6" stroke-opacity="0.35"/>
<rect x="173.40" y="428.90" width="26.55" height="28.90" fill="none" stroke="#c2ddec" stroke-width="0.6" stroke-opacity="0.35"/>
<rect x="200.55" y="428.90" width="26.55" height="28.90" fill="none" stroke="#f7f6f6" stroke-width="0.6" stroke-opacity="0.35"/>
<rect x="227.70" y="428.90" width="26.55" height="28.90" fill="none" stroke="#6bacd1" stroke-width="0.6" stroke-opacity="0.35"/>
<rect x="254.85" y="428.90" width="26.55" height="28.90" fill="none" stroke="#3f8ec0" stroke-width="0.6" stroke-opacity="0.35"/>
<rect x="64.80" y="458.40" width="26.55" height="28.90" fill="none" stroke="#a2cde3" stroke-width="0.6" stroke-opacity="0.35"/>
<rect x="91.95" y="458.40" width="26.55" height="28.90" fill="none" stroke="#6bacd1" stroke-width="0.6" stroke-opacity="0.35"/>
<rect x="119.10" y="458.40" width="26.55" height="28.90" fill="none" stroke="#0c3d73" stroke-width="0.6" stroke-opacity="0.35"/>
<rect x="146.25" y="458.40" width="26.55" height="28.90" fill="none" stroke="#b1d5e7" stroke-width="0.6" stroke-opacity="0.35"/>
<rect x="173.40" y="458.40" width="26.55" height="28.90" fill="none" stroke="#053061" stroke-width="0.6" stroke-opacity="0.35"/>
<rect x="200.55" y="458.40" width="26.55" height="28.90" fill="none" stroke="#f7f6f6" stroke-width="0.6" stroke-opacity="0.35"/>
<rect x="227.70" y="458.40" width="26.55" height="28.90" fill="none" stroke="#90c4dd" stroke-width="0.6" stroke-opacity="0.35"/>
<rect x="254.85" y="458.40" width="26.55" height="28.90" fill="none" stroke="#a2cde3" stroke-width="0.6" stroke-opacity="0.35"/>
<circle cx="78.08" cy="325.35" r="9.90" fill="#67001f" stroke="#111" stroke-width="0.85"/>
<circle cx="105.22" cy="325.35" r="6.94" fill="#fbccb4" stroke="#111" stroke-width="0.85"/>
<circle cx="132.38" cy="325.35" r="6.35" fill="#fae9df" stroke="#111" stroke-width="0.85"/>
<circle cx="159.52" cy="325.35" r="5.83" fill="#f2f5f6" stroke="#111" stroke-width="0.85"/>
<circle cx="186.68" cy="325.35" r="7.61" fill="#e8896c" stroke="#111" stroke-width="0.85"/>
<circle cx="213.82" cy="325.35" r="5.55" fill="#e4eef4" stroke="#111" stroke-width="0.85"/>
<circle cx="240.97" cy="325.35" r="5.24" fill="#d4e6f1" stroke="#111" stroke-width="0.85"/>
<circle cx="268.12" cy="325.35" r="5.28" fill="#d7e8f1" stroke="#111" stroke-width="0.85"/>
<circle cx="78.08" cy="354.85" r="5.28" fill="#d7e8f1" stroke="#111" stroke-width="0.85"/>
<circle cx="105.22" cy="354.85" r="7.73" fill="#e37e64" stroke="#111" stroke-width="0.85"/>
<circle cx="132.38" cy="354.85" r="7.25" fill="#f6af8e" stroke="#111" stroke-width="0.85"/>
<circle cx="159.52" cy="354.85" r="7.02" fill="#f9c6ac" stroke="#111" stroke-width="0.85"/>
<circle cx="186.68" cy="354.85" r="5.55" fill="#e4eef4" stroke="#111" stroke-width="0.85"/>
<circle cx="213.82" cy="354.85" r="5.48" fill="#e0ecf3" stroke="#111" stroke-width="0.85"/>
<circle cx="240.97" cy="354.85" r="3.58" fill="#4393c3" stroke="#111" stroke-width="0.85"/>
<circle cx="268.12" cy="354.85" r="4.88" fill="#bbdaea" stroke="#111" stroke-width="0.85"/>
<circle cx="78.08" cy="384.35" r="6.62" fill="#fcdfcf" stroke="#111" stroke-width="0.85"/>
<circle cx="105.22" cy="384.35" r="3.50" fill="#3f8ec0" stroke="#111" stroke-width="0.85"/>
<circle cx="132.38" cy="384.35" r="4.77" fill="#b1d5e7" stroke="#111" stroke-width="0.85"/>
<circle cx="159.52" cy="384.35" r="5.67" fill="#eaf1f5" stroke="#111" stroke-width="0.85"/>
<circle cx="186.68" cy="384.35" r="4.96" fill="#c2ddec" stroke="#111" stroke-width="0.85"/>
<circle cx="213.82" cy="384.35" r="3.66" fill="#4997c5" stroke="#111" stroke-width="0.85"/>
<circle cx="240.97" cy="384.35" r="6.66" fill="#fdddcb" stroke="#111" stroke-width="0.85"/>
<circle cx="268.12" cy="384.35" r="5.87" fill="#f3f5f6" stroke="#111" stroke-width="0.85"/>
<circle cx="78.08" cy="413.85" r="5.95" fill="#f7f6f6" stroke="#111" stroke-width="0.85"/>
<circle cx="105.22" cy="413.85" r="4.77" fill="#b1d5e7" stroke="#111" stroke-width="0.85"/>
<circle cx="132.38" cy="413.85" r="4.17" fill="#7eb8d7" stroke="#111" stroke-width="0.85"/>
<circle cx="159.52" cy="413.85" r="4.49" fill="#9bc9e0" stroke="#111" stroke-width="0.85"/>
<circle cx="186.68" cy="413.85" r="5.36" fill="#dae9f2" stroke="#111" stroke-width="0.85"/>
<circle cx="213.82" cy="413.85" r="3.98" fill="#6bacd1" stroke="#111" stroke-width="0.85"/>
<circle cx="240.97" cy="413.85" r="5.48" fill="#e0ecf3" stroke="#111" stroke-width="0.85"/>
<circle cx="268.12" cy="413.85" r="4.37" fill="#90c4dd" stroke="#111" stroke-width="0.85"/>
<circle cx="78.08" cy="443.35" r="4.49" fill="#9bc9e0" stroke="#111" stroke-width="0.85"/>
<circle cx="105.22" cy="443.35" r="5.36" fill="#dae9f2" stroke="#111" stroke-width="0.85"/>
<circle cx="132.38" cy="443.35" r="4.57" fill="#a2cde3" stroke="#111" stroke-width="0.85"/>
<circle cx="159.52" cy="443.35" r="2.79" fill="#2065ab" stroke="#111" stroke-width="0.85"/>
<circle cx="186.68" cy="443.35" r="4.96" fill="#c2ddec" stroke="#111" stroke-width="0.85"/>
<circle cx="213.82" cy="443.35" r="5.95" fill="#f7f6f6" stroke="#111" stroke-width="0.85"/>
<circle cx="240.97" cy="443.35" r="3.98" fill="#6bacd1" stroke="#111" stroke-width="0.85"/>
<circle cx="268.12" cy="443.35" r="3.50" fill="#3f8ec0" stroke="#111" stroke-width="0.85"/>
<circle cx="78.08" cy="472.85" r="4.57" fill="#a2cde3" stroke="#111" stroke-width="0.85"/>
<circle cx="105.22" cy="472.85" r="3.98" fill="#6bacd1" stroke="#111" stroke-width="0.85"/>
<circle cx="132.38" cy="472.85" r="2.20" fill="#0c3d73" stroke="#111" stroke-width="0.85"/>
<circle cx="159.52" cy="472.85" r="4.77" fill="#b1d5e7" stroke="#111" stroke-width="0.85"/>
<circle cx="186.68" cy="472.85" r="2.10" fill="#053061" stroke="#111" stroke-width="0.85"/>
<circle cx="213.82" cy="472.85" r="5.95" fill="#f7f6f6" stroke="#111" stroke-width="0.85"/>
<circle cx="240.97" cy="472.85" r="4.37" fill="#90c4dd" stroke="#111" stroke-width="0.85"/>
<circle cx="268.12" cy="472.85" r="4.57" fill="#a2cde3" stroke="#111" stroke-width="0.85"/>
<rect x="64.50" y="310.60" width="217.20" height="177.00" fill="none" stroke="#444" stroke-width="1.0"/>
<path d="M105.22 293.70V284.48H132.38V293.70M118.80 284.48V280.96H159.52V293.70M139.16 280.96V277.32H186.68V293.70M240.97 293.70V286.78H268.12V293.70M213.82 293.70V277.07H254.55V286.78M162.92 277.32V272.46H234.19V277.07M78.08 293.70V267.00H198.55V272.46" fill="none" stroke="#222" stroke-width="0.9"/>
<path d="M48.50 325.35H29.50V354.85H48.50M48.50 384.35H40.80V413.85H48.50M48.50 443.35H36.30V472.85H48.50M40.80 399.10H33.60V458.10H36.30M29.50 340.10H21.30V428.60H33.60" fill="none" stroke="#222" stroke-width="0.9"/>
<text x="61.50" y="305.20" font-size="10.6" text-anchor="end" fill="#000" stroke="#000" stroke-width="0.13">c</text>
<text x="60.30" y="490.30" font-size="10.4" text-anchor="end" fill="#000" stroke="#000" stroke-width="0.12" transform="rotate(-90 60.30 490.30)">rows</text>
<text x="287.20" y="267.70" font-size="9" font-weight="bold" text-anchor="start" fill="#000" stroke="#000" stroke-width="0.11">size</text>
<circle cx="297.6" cy="279.2" r="1.9" fill="#4d4d4d" stroke="#2a2a2a" stroke-width="0.6"/>
<text x="311.00" y="282.50" font-size="9.0" text-anchor="start" fill="#000" stroke="#000" stroke-width="0.11">-0.68</text>
<circle cx="297.6" cy="289.1" r="3.3" fill="#4d4d4d" stroke="#2a2a2a" stroke-width="0.6"/>
<text x="311.00" y="292.40" font-size="9.0" text-anchor="start" fill="#000" stroke="#000" stroke-width="0.11">-0.21</text>
<circle cx="297.6" cy="299.8" r="4.7" fill="#4d4d4d" stroke="#2a2a2a" stroke-width="0.6"/>
<text x="311.00" y="303.10" font-size="9.0" text-anchor="start" fill="#000" stroke="#000" stroke-width="0.11">0.25</text>
<circle cx="297.6" cy="311.3" r="6.3" fill="#4d4d4d" stroke="#2a2a2a" stroke-width="0.6"/>
<text x="311.00" y="314.60" font-size="9.0" text-anchor="start" fill="#000" stroke="#000" stroke-width="0.11">0.72</text>
<circle cx="297.6" cy="326.5" r="8.1" fill="#4d4d4d" stroke="#2a2a2a" stroke-width="0.6"/>
<text x="311.00" y="329.80" font-size="9.0" text-anchor="start" fill="#000" stroke="#000" stroke-width="0.11">1.19</text>
<text x="345.40" y="267.70" font-size="9" font-weight="bold" text-anchor="start" fill="#000" stroke="#000" stroke-width="0.11">rows</text>
<rect x="345.00" y="273.20" width="10.20" height="10.62" fill="#a6cee3" stroke="#222" stroke-width="0.55"/>
<text x="358.10" y="281.75" font-size="9.0" text-anchor="start" fill="#000" stroke="#000" stroke-width="0.11">F1</text>
<rect x="345.00" y="283.82" width="10.20" height="10.62" fill="#1f78b4" stroke="#222" stroke-width="0.55"/>
<text x="358.10" y="292.37" font-size="9.0" text-anchor="start" fill="#000" stroke="#000" stroke-width="0.11">F2</text>
<rect x="345.00" y="294.44" width="10.20" height="10.62" fill="#b2df8a" stroke="#222" stroke-width="0.55"/>
<text x="358.10" y="302.99" font-size="9.0" text-anchor="start" fill="#000" stroke="#000" stroke-width="0.11">F3</text>
<rect x="345.00" y="305.06" width="10.20" height="10.62" fill="#33a02c" stroke="#222" stroke-width="0.55"/>
<text x="358.10" y="313.61" font-size="9.0" text-anchor="start" fill="#000" stroke="#000" stroke-width="0.11">F4</text>
<rect x="345.00" y="315.68" width="10.20" height="10.62" fill="#fdbf6f" stroke="#222" stroke-width="0.55"/>
<text x="358.10" y="324.23" font-size="9.0" text-anchor="start" fill="#000" stroke="#000" stroke-width="0.11">F5</text>
<rect x="345.00" y="326.30" width="10.20" height="10.62" fill="#ff7f00" stroke="#222" stroke-width="0.55"/>
<text x="358.10" y="334.85" font-size="9.0" text-anchor="start" fill="#000" stroke="#000" stroke-width="0.11">F6</text>
<text x="287.20" y="352.20" font-size="9" font-weight="bold" text-anchor="start" fill="#000" stroke="#000" stroke-width="0.11">value</text>
<defs><linearGradient id="cb3" x1="0" y1="0" x2="0" y2="1"><stop offset="0.000" stop-color="#67001f"/><stop offset="0.030" stop-color="#67001f"/><stop offset="0.156" stop-color="#a3142a"/><stop offset="0.220" stop-color="#d05045"/><stop offset="0.265" stop-color="#ee9677"/><stop offset="0.365" stop-color="#fbd9c7"/><stop offset="0.470" stop-color="#f6f6f6"/><stop offset="0.506" stop-color="#eef3f6"/><stop offset="0.573" stop-color="#b5d6e8"/><stop offset="0.656" stop-color="#4a97c5"/><stop offset="0.740" stop-color="#1f63a8"/><stop offset="0.820" stop-color="#0b3d78"/><stop offset="0.906" stop-color="#053061"/><stop offset="1.000" stop-color="#053061"/></linearGradient></defs>
<rect x="286.80" y="357.00" width="11.30" height="55.60" fill="url(#cb3)" stroke="#222" stroke-width="0.5"/>
<path d="M286.80 359.70h1.8M298.10 359.70h-1.8M286.80 371.80h1.8M298.10 371.80h-1.8M286.80 384.80h1.8M298.10 384.80h-1.8M286.80 397.50h1.8M298.10 397.50h-1.8M286.80 410.20h1.8M298.10 410.20h-1.8" fill="none" stroke="#111" stroke-width="0.5"/>
<text x="300.70" y="363.00" font-size="9.0" text-anchor="start" fill="#000" stroke="#000" stroke-width="0.11">1</text>
<text x="300.70" y="375.70" font-size="9.0" text-anchor="start" fill="#000" stroke="#000" stroke-width="0.11">0.5</text>
<text x="300.70" y="388.40" font-size="9.0" text-anchor="start" fill="#000" stroke="#000" stroke-width="0.11">0</text>
<text x="300.70" y="401.50" font-size="9.0" text-anchor="start" fill="#000" stroke="#000" stroke-width="0.11">-0.5</text>
<text x="300.70" y="414.20" font-size="9.0" text-anchor="start" fill="#000" stroke="#000" stroke-width="0.11">-1</text>
<text x="287.20" y="429.70" font-size="9" font-weight="bold" text-anchor="start" fill="#000" stroke="#000" stroke-width="0.11">c</text>
<rect x="287.00" y="435.70" width="10.20" height="10.42" fill="#a6cee3" stroke="#222" stroke-width="0.55"/>
<text x="300.70" y="444.15" font-size="9.0" text-anchor="start" fill="#000" stroke="#000" stroke-width="0.11">f</text>
<rect x="287.00" y="446.12" width="10.20" height="10.42" fill="#1f78b4" stroke="#222" stroke-width="0.55"/>
<text x="300.70" y="454.57" font-size="9.0" text-anchor="start" fill="#000" stroke="#000" stroke-width="0.11">c</text>
<rect x="287.00" y="456.54" width="10.20" height="10.42" fill="#b2df8a" stroke="#222" stroke-width="0.55"/>
<text x="300.70" y="464.99" font-size="9.0" text-anchor="start" fill="#000" stroke="#000" stroke-width="0.11">g</text>
<rect x="287.00" y="466.96" width="10.20" height="10.42" fill="#33a02c" stroke="#222" stroke-width="0.55"/>
<text x="300.70" y="475.41" font-size="9.0" text-anchor="start" fill="#000" stroke="#000" stroke-width="0.11">b</text>
<rect x="287.00" y="477.38" width="10.20" height="10.42" fill="#fdbf6f" stroke="#222" stroke-width="0.55"/>
<text x="300.70" y="485.83" font-size="9.0" text-anchor="start" fill="#000" stroke="#000" stroke-width="0.11">a</text>
<rect x="287.00" y="487.80" width="10.20" height="10.42" fill="#ff7f00" stroke="#222" stroke-width="0.55"/>
<text x="300.70" y="496.25" font-size="9.0" text-anchor="start" fill="#000" stroke="#000" stroke-width="0.11">h</text>
<rect x="287.00" y="498.22" width="10.20" height="10.42" fill="#fb9a99" stroke="#222" stroke-width="0.55"/>
<text x="300.70" y="506.67" font-size="9.0" text-anchor="start" fill="#000" stroke="#000" stroke-width="0.11">e</text>
<rect x="287.00" y="508.64" width="10.20" height="10.42" fill="#e31a1c" stroke="#222" stroke-width="0.55"/>
<text x="300.70" y="517.09" font-size="9.0" text-anchor="start" fill="#000" stroke="#000" stroke-width="0.11">d</text>
<rect x="430.70" y="272.50" width="26.86" height="6.70" fill="#1f78b4"/>
<rect x="457.36" y="272.50" width="26.86" height="6.70" fill="#ff7f00"/>
<rect x="484.02" y="272.50" width="26.86" height="6.70" fill="#fdbf6f"/>
<rect x="510.68" y="272.50" width="26.86" height="6.70" fill="#a6cee3"/>
<rect x="537.34" y="272.50" width="26.86" height="6.70" fill="#33a02c"/>
<rect x="564.00" y="272.50" width="26.86" height="6.70" fill="#fb9a99"/>
<rect x="590.66" y="272.50" width="26.86" height="6.70" fill="#b2df8a"/>
<rect x="617.32" y="272.50" width="26.86" height="6.70" fill="#e31a1c"/>
<rect x="430.70" y="272.50" width="213.28" height="6.70" fill="none" stroke="#444" stroke-width="0.4"/>
<rect x="430.70" y="280.80" width="213.28" height="25.00" fill="#fff" stroke="#555" stroke-width="0.8"/>
<rect x="430.70" y="307.00" width="213.28" height="13.20" fill="#fff" stroke="#555" stroke-width="0.8"/>
<rect x="430.70" y="321.30" width="213.28" height="25.30" fill="#fff" stroke="#555" stroke-width="0.8"/>
<path d="M444.03 282.90A10.3 10.3 0 0 0 433.73 293.20L439.23 293.20A4.8 4.8 0 0 1 444.03 288.40Z" fill="#a6cee3"/>
<path d="M433.73 293.20A10.3 10.3 0 1 0 448.99 284.17L446.34 288.99A4.8 4.8 0 1 1 439.23 293.20Z" fill="#1f78b4"/>
<path d="M448.99 284.17A10.3 10.3 0 0 0 444.03 282.90L444.03 288.40A4.8 4.8 0 0 1 446.34 288.99Z" fill="#b2df8a"/>
<rect x="434.53" y="315.05" width="5.70" height="4.55" fill="#a6cee3"/>
<rect x="441.23" y="307.40" width="5.70" height="12.20" fill="#1f78b4"/>
<rect x="447.93" y="318.14" width="5.70" height="1.46" fill="#b2df8a"/>
<path d="M449.13 323.10C450.91 323.21 449.21 323.21 449.63 323.75C450.05 324.29 450.98 325.49 451.63 326.36C452.28 327.22 453.11 328.27 453.53 328.96C453.95 329.65 454.00 330.01 454.13 330.48C454.26 330.95 454.33 331.35 454.33 331.78C454.33 332.21 454.30 332.54 454.13 333.08C453.96 333.62 453.73 334.17 453.33 335.04C452.93 335.90 452.28 337.21 451.73 338.29C451.18 339.38 450.53 340.57 450.03 341.55C449.53 342.52 449.00 343.61 448.73 344.15C448.46 344.69 449.95 344.69 448.43 344.80C446.91 344.91 441.15 344.91 439.63 344.80C438.11 344.69 439.60 344.69 439.33 344.15C439.06 343.61 438.53 342.52 438.03 341.55C437.53 340.57 436.88 339.38 436.33 338.29C435.78 337.21 435.13 335.90 434.73 335.04C434.33 334.17 434.10 333.62 433.93 333.08C433.76 332.54 433.73 332.21 433.73 331.78C433.73 331.35 433.80 330.95 433.93 330.48C434.06 330.01 434.11 329.65 434.53 328.96C434.95 328.27 435.78 327.22 436.43 326.36C437.08 325.49 438.01 324.29 438.43 323.75C438.85 323.21 437.15 323.21 438.93 323.10C440.71 322.99 447.35 322.99 449.13 323.10Z" fill="#1f78b4" stroke="#333" stroke-width="0.5"/>
<path d="M470.69 282.90A10.3 10.3 0 0 0 460.89 290.02L466.12 291.72A4.8 4.8 0 0 1 470.69 288.40Z" fill="#a6cee3"/>
<path d="M460.89 290.02A10.3 10.3 0 0 0 470.04 303.48L470.39 297.99A4.8 4.8 0 0 1 466.12 291.72Z" fill="#1f78b4"/>
<path d="M470.04 303.48A10.3 10.3 0 1 0 470.69 282.90L470.69 288.40A4.8 4.8 0 1 1 470.39 297.99Z" fill="#b2df8a"/>
<rect x="461.19" y="314.82" width="5.70" height="4.78" fill="#a6cee3"/>
<rect x="467.89" y="312.66" width="5.70" height="6.94" fill="#1f78b4"/>
<rect x="474.59" y="307.40" width="5.70" height="12.20" fill="#b2df8a"/>
<path d="M471.79 323.10C472.17 323.82 471.57 326.28 471.89 327.44C472.21 328.60 472.64 329.14 473.69 330.04C474.74 330.95 477.09 332.03 478.19 332.87C479.29 333.70 479.84 334.38 480.29 335.04C480.74 335.69 480.89 336.16 480.89 336.77C480.89 337.39 480.79 337.93 480.29 338.72C479.79 339.52 478.69 340.71 477.89 341.55C477.09 342.38 476.06 343.17 475.49 343.72C474.92 344.26 475.92 344.62 474.49 344.80C473.06 344.98 468.32 344.98 466.89 344.80C465.46 344.62 466.46 344.26 465.89 343.72C465.32 343.17 464.29 342.38 463.49 341.55C462.69 340.71 461.59 339.52 461.09 338.72C460.59 337.93 460.49 337.39 460.49 336.77C460.49 336.16 460.64 335.69 461.09 335.04C461.54 334.38 462.09 333.70 463.19 332.87C464.29 332.03 466.64 330.95 467.69 330.04C468.74 329.14 469.17 328.60 469.49 327.44C469.81 326.28 469.21 323.82 469.59 323.10C469.97 322.38 471.41 322.38 471.79 323.10Z" fill="#ff7f00" stroke="#333" stroke-width="0.5"/>
<path d="M497.35 282.90A10.3 10.3 0 0 0 487.07 292.55L492.56 292.90A4.8 4.8 0 0 1 497.35 288.40Z" fill="#a6cee3"/>
<path d="M487.07 292.55A10.3 10.3 0 0 0 488.65 298.72L493.30 295.77A4.8 4.8 0 0 1 492.56 292.90Z" fill="#1f78b4"/>
<path d="M488.65 298.72A10.3 10.3 0 1 0 497.35 282.90L497.35 288.40A4.8 4.8 0 1 1 493.30 295.77Z" fill="#b2df8a"/>
<rect x="487.85" y="315.16" width="5.70" height="4.44" fill="#a6cee3"/>
<rect x="494.55" y="317.75" width="5.70" height="1.85" fill="#1f78b4"/>
<rect x="501.25" y="307.40" width="5.70" height="12.20" fill="#b2df8a"/>
<path d="M499.95 323.10C500.78 323.46 499.68 324.55 499.75 325.27C499.82 325.99 500.47 326.72 500.35 327.44C500.23 328.16 498.88 328.85 499.05 329.61C499.22 330.37 499.98 331.24 501.35 332.00C502.72 332.76 507.08 333.48 507.25 334.17C507.42 334.85 503.62 335.36 502.35 336.12C501.08 336.88 500.20 337.82 499.65 338.72C499.10 339.63 499.00 340.71 499.05 341.55C499.10 342.38 499.80 343.17 499.95 343.72C500.10 344.26 500.82 344.62 499.95 344.80C499.08 344.98 495.62 344.98 494.75 344.80C493.88 344.62 494.60 344.26 494.75 343.72C494.90 343.17 495.60 342.38 495.65 341.55C495.70 340.71 495.60 339.63 495.05 338.72C494.50 337.82 493.62 336.88 492.35 336.12C491.08 335.36 487.28 334.85 487.45 334.17C487.62 333.48 491.98 332.76 493.35 332.00C494.72 331.24 495.48 330.37 495.65 329.61C495.82 328.85 494.47 328.16 494.35 327.44C494.23 326.72 494.88 325.99 494.95 325.27C495.02 324.55 493.92 323.46 494.75 323.10C495.58 322.74 499.12 322.74 499.95 323.10Z" fill="#fdbf6f" stroke="#333" stroke-width="0.5"/>
<path d="M524.01 282.90A10.3 10.3 0 1 0 531.06 300.71L527.30 296.70A4.8 4.8 0 1 1 524.01 288.40Z" fill="#a6cee3"/>
<path d="M531.06 300.71A10.3 10.3 0 0 0 534.29 293.85L528.80 293.50A4.8 4.8 0 0 1 527.30 296.70Z" fill="#1f78b4"/>
<path d="M534.29 293.85A10.3 10.3 0 0 0 524.01 282.90L524.01 288.40A4.8 4.8 0 0 1 528.80 293.50Z" fill="#b2df8a"/>
<rect x="514.51" y="307.40" width="5.70" height="12.20" fill="#a6cee3"/>
<rect x="521.21" y="317.24" width="5.70" height="2.36" fill="#1f78b4"/>
<rect x="527.91" y="314.48" width="5.70" height="5.12" fill="#b2df8a"/>
<path d="M531.01 323.10C533.71 323.39 532.71 324.11 533.21 324.84C533.71 325.56 534.08 326.64 534.01 327.44C533.94 328.24 533.73 328.89 532.81 329.61C531.89 330.33 529.76 331.06 528.51 331.78C527.26 332.50 525.69 333.34 525.31 333.95C524.93 334.56 525.84 334.93 526.21 335.47C526.58 336.01 527.48 336.63 527.51 337.21C527.54 337.78 526.86 338.25 526.41 338.94C525.96 339.63 525.01 340.60 524.81 341.33C524.61 342.05 525.11 342.70 525.21 343.28C525.31 343.86 525.84 344.55 525.41 344.80C524.98 345.05 523.04 345.05 522.61 344.80C522.18 344.55 522.71 343.86 522.81 343.28C522.91 342.70 523.41 342.05 523.21 341.33C523.01 340.60 522.06 339.63 521.61 338.94C521.16 338.25 520.48 337.78 520.51 337.21C520.54 336.63 521.44 336.01 521.81 335.47C522.18 334.93 523.09 334.56 522.71 333.95C522.33 333.34 520.76 332.50 519.51 331.78C518.26 331.06 516.13 330.33 515.21 329.61C514.29 328.89 514.08 328.24 514.01 327.44C513.94 326.64 514.31 325.56 514.81 324.84C515.31 324.11 514.31 323.39 517.01 323.10C519.71 322.81 528.31 322.81 531.01 323.10Z" fill="#a6cee3" stroke="#333" stroke-width="0.5"/>
<path d="M550.67 282.90A10.3 10.3 0 0 0 540.45 291.91L545.91 292.60A4.8 4.8 0 0 1 550.67 288.40Z" fill="#a6cee3"/>
<path d="M540.45 291.91A10.3 10.3 0 0 0 543.62 300.71L547.38 296.70A4.8 4.8 0 0 1 545.91 292.60Z" fill="#1f78b4"/>
<path d="M543.62 300.71A10.3 10.3 0 1 0 550.67 282.90L550.67 288.40A4.8 4.8 0 1 1 547.38 296.70Z" fill="#b2df8a"/>
<rect x="541.17" y="315.07" width="5.70" height="4.53" fill="#a6cee3"/>
<rect x="547.87" y="316.65" width="5.70" height="2.95" fill="#1f78b4"/>
<rect x="554.57" y="307.40" width="5.70" height="12.20" fill="#b2df8a"/>
<path d="M555.07 323.10C556.64 323.21 555.35 323.46 555.67 323.75C555.99 324.04 556.30 324.22 556.97 324.84C557.64 325.45 559.02 326.54 559.67 327.44C560.32 328.34 560.80 329.36 560.87 330.26C560.94 331.17 560.64 331.96 560.07 332.87C559.50 333.77 558.20 334.78 557.47 335.69C556.74 336.59 556.00 337.31 555.67 338.29C555.34 339.27 555.47 340.57 555.47 341.55C555.47 342.52 555.64 343.61 555.67 344.15C555.70 344.69 557.34 344.69 555.67 344.80C554.00 344.91 547.34 344.91 545.67 344.80C544.00 344.69 545.64 344.69 545.67 344.15C545.70 343.61 545.87 342.52 545.87 341.55C545.87 340.57 546.00 339.27 545.67 338.29C545.34 337.31 544.60 336.59 543.87 335.69C543.14 334.78 541.84 333.77 541.27 332.87C540.70 331.96 540.40 331.17 540.47 330.26C540.54 329.36 541.02 328.34 541.67 327.44C542.32 326.54 543.70 325.45 544.37 324.84C545.04 324.22 545.35 324.04 545.67 323.75C545.99 323.46 544.70 323.21 546.27 323.10C547.84 322.99 553.50 322.99 555.07 323.10Z" fill="#33a02c" stroke="#333" stroke-width="0.5"/>
<path d="M577.33 282.90A10.3 10.3 0 0 0 567.05 292.55L572.54 292.90A4.8 4.8 0 0 1 577.33 288.40Z" fill="#a6cee3"/>
<path d="M567.05 292.55A10.3 10.3 0 0 0 586.36 298.16L581.54 295.51A4.8 4.8 0 0 1 572.54 292.90Z" fill="#1f78b4"/>
<path d="M586.36 298.16A10.3 10.3 0 0 0 577.33 282.90L577.33 288.40A4.8 4.8 0 0 1 581.54 295.51Z" fill="#b2df8a"/>
<rect x="567.83" y="312.79" width="5.70" height="6.81" fill="#a6cee3"/>
<rect x="574.53" y="307.40" width="5.70" height="12.20" fill="#1f78b4"/>
<rect x="581.23" y="310.24" width="5.70" height="9.36" fill="#b2df8a"/>
<path d="M581.43 323.10C582.91 323.21 581.78 323.46 582.13 323.75C582.48 324.04 582.80 324.22 583.53 324.84C584.26 325.45 585.86 326.61 586.53 327.44C587.20 328.27 587.50 329.03 587.53 329.83C587.56 330.62 587.38 331.17 586.73 332.21C586.08 333.26 584.60 334.75 583.63 336.12C582.66 337.49 581.51 339.27 580.93 340.46C580.35 341.65 580.30 342.56 580.13 343.28C579.96 344.00 580.83 344.55 579.93 344.80C579.03 345.05 575.63 345.05 574.73 344.80C573.83 344.55 574.70 344.00 574.53 343.28C574.36 342.56 574.31 341.65 573.73 340.46C573.15 339.27 572.00 337.49 571.03 336.12C570.06 334.75 568.58 333.26 567.93 332.21C567.28 331.17 567.10 330.62 567.13 329.83C567.16 329.03 567.46 328.27 568.13 327.44C568.80 326.61 570.40 325.45 571.13 324.84C571.86 324.22 572.18 324.04 572.53 323.75C572.88 323.46 571.75 323.21 573.23 323.10C574.71 322.99 579.95 322.99 581.43 323.10Z" fill="#fb9a99" stroke="#333" stroke-width="0.5"/>
<path d="M603.99 282.90A10.3 10.3 0 1 0 607.78 302.78L605.76 297.66A4.8 4.8 0 1 1 603.99 288.40Z" fill="#a6cee3"/>
<path d="M607.78 302.78A10.3 10.3 0 0 0 614.21 291.91L608.75 292.60A4.8 4.8 0 0 1 605.76 297.66Z" fill="#1f78b4"/>
<path d="M614.21 291.91A10.3 10.3 0 0 0 603.99 282.90L603.99 288.40A4.8 4.8 0 0 1 608.75 292.60Z" fill="#b2df8a"/>
<rect x="594.49" y="307.40" width="5.70" height="12.20" fill="#a6cee3"/>
<rect x="601.19" y="315.03" width="5.70" height="4.57" fill="#1f78b4"/>
<rect x="607.89" y="314.59" width="5.70" height="5.01" fill="#b2df8a"/>
<path d="M607.99 323.10C609.66 323.32 609.19 323.32 609.99 324.40C610.79 325.49 612.21 327.84 612.79 329.61C613.37 331.38 613.32 332.87 613.49 335.04C613.66 337.21 613.91 341.07 613.79 342.63C613.67 344.19 613.17 344.00 612.79 344.37C612.41 344.73 614.21 344.73 611.49 344.80C608.77 344.87 599.21 344.87 596.49 344.80C593.77 344.73 595.57 344.73 595.19 344.37C594.81 344.00 594.31 344.19 594.19 342.63C594.07 341.07 594.32 337.21 594.49 335.04C594.66 332.87 594.61 331.38 595.19 329.61C595.77 327.84 597.19 325.49 597.99 324.40C598.79 323.32 598.32 323.32 599.99 323.10C601.66 322.88 606.32 322.88 607.99 323.10Z" fill="#b2df8a" stroke="#333" stroke-width="0.5"/>
<path d="M630.65 282.90A10.3 10.3 0 1 0 631.30 303.48L630.95 297.99A4.8 4.8 0 1 1 630.65 288.40Z" fill="#a6cee3"/>
<path d="M631.30 303.48A10.3 10.3 0 0 0 639.97 288.81L634.99 291.16A4.8 4.8 0 0 1 630.95 297.99Z" fill="#1f78b4"/>
<path d="M639.97 288.81A10.3 10.3 0 0 0 630.65 282.90L630.65 288.40A4.8 4.8 0 0 1 634.99 291.16Z" fill="#b2df8a"/>
<rect x="621.15" y="307.40" width="5.70" height="12.20" fill="#a6cee3"/>
<rect x="627.85" y="312.18" width="5.70" height="7.42" fill="#1f78b4"/>
<rect x="634.55" y="315.29" width="5.70" height="4.31" fill="#b2df8a"/>
<path d="M636.25 323.10C638.02 323.82 635.87 325.99 635.65 327.44C635.43 328.89 634.70 330.33 634.95 331.78C635.20 333.23 636.20 334.67 637.15 336.12C638.10 337.57 640.13 339.27 640.65 340.46C641.17 341.65 640.67 342.56 640.25 343.28C639.83 344.00 641.00 344.55 638.15 344.80C635.30 345.05 626.00 345.05 623.15 344.80C620.30 344.55 621.47 344.00 621.05 343.28C620.63 342.56 620.13 341.65 620.65 340.46C621.17 339.27 623.20 337.57 624.15 336.12C625.10 334.67 626.10 333.23 626.35 331.78C626.60 330.33 625.87 328.89 625.65 327.44C625.43 325.99 623.28 323.82 625.05 323.10C626.82 322.38 634.48 322.38 636.25 323.10Z" fill="#e31a1c" stroke="#333" stroke-width="0.5"/>
<rect x="414.60" y="348.10" width="6.10" height="75.00" fill="#c51b8a" stroke="#444" stroke-width="0.4"/>
<rect x="421.90" y="348.10" width="6.80" height="25.20" fill="#1f78b4"/>
<rect x="686.60" y="348.10" width="7.00" height="25.20" fill="#1f78b4"/>
<rect x="430.70" y="348.10" width="26.96" height="25.30" fill="#d7e8f1"/>
<rect x="457.36" y="348.10" width="26.96" height="25.30" fill="#e37e64"/>
<rect x="484.02" y="348.10" width="26.96" height="25.30" fill="#f6af8e"/>
<rect x="510.68" y="348.10" width="26.96" height="25.30" fill="#f9c6ac"/>
<rect x="537.34" y="348.10" width="26.96" height="25.30" fill="#e4eef4"/>
<rect x="564.00" y="348.10" width="26.96" height="25.30" fill="#e0ecf3"/>
<rect x="590.66" y="348.10" width="26.96" height="25.30" fill="#4393c3"/>
<rect x="617.32" y="348.10" width="26.96" height="25.30" fill="#bbdaea"/>
<text x="695.00" y="362.85" font-size="6.2" text-anchor="start" fill="#000" stroke="#000" stroke-width="0.07">F2</text>
<rect x="421.90" y="373.10" width="6.80" height="25.20" fill="#a6cee3"/>
<rect x="686.60" y="373.10" width="7.00" height="25.20" fill="#a6cee3"/>
<rect x="430.70" y="373.10" width="26.96" height="25.30" fill="#fcdfcf"/>
<rect x="457.36" y="373.10" width="26.96" height="25.30" fill="#3f8ec0"/>
<rect x="484.02" y="373.10" width="26.96" height="25.30" fill="#b1d5e7"/>
<rect x="510.68" y="373.10" width="26.96" height="25.30" fill="#eaf1f5"/>
<rect x="537.34" y="373.10" width="26.96" height="25.30" fill="#c2ddec"/>
<rect x="564.00" y="373.10" width="26.96" height="25.30" fill="#4997c5"/>
<rect x="590.66" y="373.10" width="26.96" height="25.30" fill="#fdddcb"/>
<rect x="617.32" y="373.10" width="26.96" height="25.30" fill="#f3f5f6"/>
<text x="695.00" y="387.85" font-size="6.2" text-anchor="start" fill="#000" stroke="#000" stroke-width="0.07">F1</text>
<rect x="421.90" y="398.10" width="6.80" height="25.20" fill="#b2df8a"/>
<rect x="686.60" y="398.10" width="7.00" height="25.20" fill="#b2df8a"/>
<rect x="430.70" y="398.10" width="26.96" height="25.30" fill="#f7f6f6"/>
<rect x="457.36" y="398.10" width="26.96" height="25.30" fill="#b1d5e7"/>
<rect x="484.02" y="398.10" width="26.96" height="25.30" fill="#7eb8d7"/>
<rect x="510.68" y="398.10" width="26.96" height="25.30" fill="#9bc9e0"/>
<rect x="537.34" y="398.10" width="26.96" height="25.30" fill="#dae9f2"/>
<rect x="564.00" y="398.10" width="26.96" height="25.30" fill="#6bacd1"/>
<rect x="590.66" y="398.10" width="26.96" height="25.30" fill="#e0ecf3"/>
<rect x="617.32" y="398.10" width="26.96" height="25.30" fill="#90c4dd"/>
<text x="695.00" y="412.85" font-size="6.2" text-anchor="start" fill="#000" stroke="#000" stroke-width="0.07">F3</text>
<rect x="421.90" y="348.10" width="6.80" height="75.00" fill="none" stroke="#444" stroke-width="0.4"/>
<rect x="686.60" y="348.10" width="7.00" height="75.00" fill="none" stroke="#444" stroke-width="0.4"/>
<rect x="430.70" y="348.10" width="213.28" height="75.00" fill="none" stroke="#555" stroke-width="0.8"/>
<rect x="646.00" y="348.10" width="25.00" height="75.00" fill="#fff" stroke="#555" stroke-width="0.8"/>
<rect x="671.90" y="348.10" width="13.70" height="75.00" fill="#fff" stroke="#555" stroke-width="0.8"/>
<path d="M658.60 360.60L658.60 351.20A9.4 9.4 0 0 0 649.66 363.50Z" fill="#a6cee3"/>
<path d="M658.60 360.60L649.66 363.50A9.4 9.4 0 1 0 663.13 352.36Z" fill="#1f78b4"/>
<path d="M658.60 360.60L663.13 352.36A9.4 9.4 0 0 0 658.60 351.20Z" fill="#b2df8a"/>
<path d="M658.60 385.60L658.60 376.20A9.4 9.4 0 1 0 667.11 389.60Z" fill="#a6cee3"/>
<path d="M658.60 385.60L667.11 389.60A9.4 9.4 0 0 0 667.93 384.42Z" fill="#1f78b4"/>
<path d="M658.60 385.60L667.93 384.42A9.4 9.4 0 0 0 658.60 376.20Z" fill="#b2df8a"/>
<path d="M658.60 410.60L658.60 401.20A9.4 9.4 0 1 0 667.11 414.60Z" fill="#a6cee3"/>
<path d="M658.60 410.60L667.11 414.60A9.4 9.4 0 0 0 667.83 408.84Z" fill="#1f78b4"/>
<path d="M658.60 410.60L667.83 408.84A9.4 9.4 0 0 0 658.60 401.20Z" fill="#b2df8a"/>
<rect x="414.60" y="425.30" width="6.10" height="75.00" fill="#f768a1" stroke="#444" stroke-width="0.4"/>
<rect x="421.90" y="425.30" width="6.80" height="25.20" fill="#33a02c"/>
<rect x="686.60" y="425.30" width="7.00" height="25.20" fill="#33a02c"/>
<rect x="430.70" y="425.30" width="26.96" height="25.30" fill="#67001f"/>
<rect x="457.36" y="425.30" width="26.96" height="25.30" fill="#fbccb4"/>
<rect x="484.02" y="425.30" width="26.96" height="25.30" fill="#fae9df"/>
<rect x="510.68" y="425.30" width="26.96" height="25.30" fill="#f2f5f6"/>
<rect x="537.34" y="425.30" width="26.96" height="25.30" fill="#e8896c"/>
<rect x="564.00" y="425.30" width="26.96" height="25.30" fill="#e4eef4"/>
<rect x="590.66" y="425.30" width="26.96" height="25.30" fill="#d4e6f1"/>
<rect x="617.32" y="425.30" width="26.96" height="25.30" fill="#d7e8f1"/>
<text x="695.00" y="440.05" font-size="6.2" text-anchor="start" fill="#000" stroke="#000" stroke-width="0.07">F4</text>
<rect x="421.90" y="450.30" width="6.80" height="25.20" fill="#fdbf6f"/>
<rect x="686.60" y="450.30" width="7.00" height="25.20" fill="#fdbf6f"/>
<rect x="430.70" y="450.30" width="26.96" height="25.30" fill="#9bc9e0"/>
<rect x="457.36" y="450.30" width="26.96" height="25.30" fill="#dae9f2"/>
<rect x="484.02" y="450.30" width="26.96" height="25.30" fill="#a2cde3"/>
<rect x="510.68" y="450.30" width="26.96" height="25.30" fill="#2065ab"/>
<rect x="537.34" y="450.30" width="26.96" height="25.30" fill="#c2ddec"/>
<rect x="564.00" y="450.30" width="26.96" height="25.30" fill="#f7f6f6"/>
<rect x="590.66" y="450.30" width="26.96" height="25.30" fill="#6bacd1"/>
<rect x="617.32" y="450.30" width="26.96" height="25.30" fill="#3f8ec0"/>
<text x="695.00" y="465.05" font-size="6.2" text-anchor="start" fill="#000" stroke="#000" stroke-width="0.07">F5</text>
<rect x="421.90" y="475.30" width="6.80" height="25.20" fill="#ff7f00"/>
<rect x="686.60" y="475.30" width="7.00" height="25.20" fill="#ff7f00"/>
<rect x="430.70" y="475.30" width="26.96" height="25.30" fill="#a2cde3"/>
<rect x="457.36" y="475.30" width="26.96" height="25.30" fill="#6bacd1"/>
<rect x="484.02" y="475.30" width="26.96" height="25.30" fill="#0c3d73"/>
<rect x="510.68" y="475.30" width="26.96" height="25.30" fill="#b1d5e7"/>
<rect x="537.34" y="475.30" width="26.96" height="25.30" fill="#053061"/>
<rect x="564.00" y="475.30" width="26.96" height="25.30" fill="#f7f6f6"/>
<rect x="590.66" y="475.30" width="26.96" height="25.30" fill="#90c4dd"/>
<rect x="617.32" y="475.30" width="26.96" height="25.30" fill="#a2cde3"/>
<text x="695.00" y="490.05" font-size="6.2" text-anchor="start" fill="#000" stroke="#000" stroke-width="0.07">F6</text>
<rect x="421.90" y="425.30" width="6.80" height="75.00" fill="none" stroke="#444" stroke-width="0.4"/>
<rect x="686.60" y="425.30" width="7.00" height="75.00" fill="none" stroke="#444" stroke-width="0.4"/>
<rect x="430.70" y="425.30" width="213.28" height="75.00" fill="none" stroke="#555" stroke-width="0.8"/>
<rect x="646.00" y="425.30" width="25.00" height="75.00" fill="#fff" stroke="#555" stroke-width="0.8"/>
<rect x="671.90" y="425.30" width="13.70" height="75.00" fill="#fff" stroke="#555" stroke-width="0.8"/>
<path d="M658.60 437.80L658.60 428.40A9.4 9.4 0 0 0 654.07 446.04Z" fill="#a6cee3"/>
<path d="M658.60 437.80L654.07 446.04A9.4 9.4 0 0 0 663.13 446.04Z" fill="#1f78b4"/>
<path d="M658.60 437.80L663.13 446.04A9.4 9.4 0 0 0 658.60 428.40Z" fill="#b2df8a"/>
<path d="M658.60 462.80L658.60 453.40A9.4 9.4 0 0 0 649.66 465.70Z" fill="#a6cee3"/>
<path d="M658.60 462.80L649.66 465.70A9.4 9.4 0 0 0 667.54 465.70Z" fill="#1f78b4"/>
<path d="M658.60 462.80L667.54 465.70A9.4 9.4 0 0 0 658.60 453.40Z" fill="#b2df8a"/>
<path d="M658.60 487.80L658.60 478.40A9.4 9.4 0 0 0 658.60 497.20Z" fill="#a6cee3"/>
<path d="M658.60 487.80L658.60 497.20A9.4 9.4 0 0 0 667.34 491.26Z" fill="#1f78b4"/>
<path d="M658.60 487.80L667.34 491.26A9.4 9.4 0 0 0 658.60 478.40Z" fill="#b2df8a"/>
<path d="M672.0 348.10L673.80 348.10C673.67 348.85 672.83 351.10 673.00 352.60C673.17 354.10 673.75 355.98 674.80 357.10C675.85 358.23 677.50 358.73 679.30 359.35C681.10 359.98 685.72 360.35 685.60 360.85C685.48 361.35 680.27 361.60 678.60 362.35C676.93 363.10 675.80 363.98 675.60 365.35C675.40 366.73 676.85 368.98 677.40 370.60C677.95 372.23 678.08 373.35 678.90 375.10C679.72 376.85 681.18 379.10 682.30 381.10C683.42 383.10 685.60 385.35 685.60 387.10C685.60 388.85 683.47 390.23 682.30 391.60C681.13 392.98 679.52 394.35 678.60 395.35C677.68 396.35 676.68 396.85 676.80 397.60C676.92 398.35 678.13 398.60 679.30 399.85C680.47 401.10 682.87 403.73 683.80 405.10C684.73 406.48 685.15 406.85 684.90 408.10C684.65 409.35 683.35 411.10 682.30 412.60C681.25 414.10 679.60 415.35 678.60 417.10C677.60 418.85 676.68 422.10 676.30 423.10L672.0 423.10Z" fill="#d9e8f3" stroke="#a9cbe4" stroke-width="0.5"/>
<path d="M672.0 425.30L680.80 425.30C681.43 426.00 683.82 428.18 684.60 429.50C685.38 430.82 685.63 431.74 685.50 433.25C685.37 434.76 684.95 436.69 683.80 438.57C682.65 440.46 679.97 442.70 678.60 444.57C677.23 446.45 675.80 448.06 675.60 449.82C675.40 451.59 676.28 453.51 677.40 455.15C678.52 456.79 680.98 458.15 682.30 459.65C683.62 461.15 684.87 462.65 685.30 464.15C685.73 465.65 685.27 467.14 684.90 468.65C684.53 470.16 684.53 472.09 683.10 473.23C681.67 474.36 677.68 474.73 676.30 475.48C674.92 476.23 674.55 476.85 674.80 477.73C675.05 478.60 676.30 479.48 677.80 480.73C679.30 481.98 682.52 484.10 683.80 485.23C685.08 486.35 686.00 486.60 685.50 487.48C685.00 488.35 682.20 489.34 680.80 490.48C679.40 491.61 677.60 492.66 677.10 494.30C676.60 495.94 677.68 499.30 677.80 500.30L672.0 500.30Z" fill="#d9e8f3" stroke="#a9cbe4" stroke-width="0.5"/>
<path d="M470.69 271.80V266.80H497.35V271.80M484.02 266.80V264.60H524.01V271.80M504.01 264.60V262.90H550.67V271.80M603.99 271.80V267.40H630.65V271.80M577.33 271.80V262.50H617.32V267.40M527.34 262.90V259.90H597.32V262.50M444.03 271.80V257.10H562.33V259.90" fill="none" stroke="#222" stroke-width="0.6"/>
<path d="M413.90 385.60H409.70V410.60H413.90M413.90 360.60H404.80V398.10H409.70" fill="none" stroke="#222" stroke-width="0.6"/>
<path d="M413.90 462.80H407.70V487.80H413.90M413.90 437.80H399.70V475.30H407.70" fill="none" stroke="#222" stroke-width="0.6"/>
<text x="428.60" y="278.50" font-size="5.8" text-anchor="end" fill="#000" stroke="#000" stroke-width="0.07">c</text>
<text x="428.60" y="295.50" font-size="5.8" text-anchor="end" fill="#000" stroke="#000" stroke-width="0.07">p1</text>
<text x="428.60" y="315.90" font-size="5.8" text-anchor="end" fill="#000" stroke="#000" stroke-width="0.07">p2</text>
<text x="428.60" y="336.20" font-size="5.8" text-anchor="end" fill="#000" stroke="#000" stroke-width="0.07">F1</text>
<text x="395.60" y="385.60" font-size="6" text-anchor="middle" fill="#000" stroke="#000" stroke-width="0.07" transform="rotate(-90 395.60 385.60)">a</text>
<text x="395.60" y="462.60" font-size="6" text-anchor="middle" fill="#000" stroke="#000" stroke-width="0.07" transform="rotate(-90 395.60 462.60)">b</text>
<text x="428.00" y="501.90" font-size="6.4" text-anchor="end" fill="#000" stroke="#000" stroke-width="0.08" transform="rotate(-90 428.00 501.90)">rows</text>
<text x="446.23" y="501.90" font-size="6.4" text-anchor="end" fill="#000" stroke="#000" stroke-width="0.08" transform="rotate(-90 446.23 501.90)">c</text>
<text x="472.89" y="501.90" font-size="6.4" text-anchor="end" fill="#000" stroke="#000" stroke-width="0.08" transform="rotate(-90 472.89 501.90)">h</text>
<text x="499.55" y="501.90" font-size="6.4" text-anchor="end" fill="#000" stroke="#000" stroke-width="0.08" transform="rotate(-90 499.55 501.90)">a</text>
<text x="526.21" y="501.90" font-size="6.4" text-anchor="end" fill="#000" stroke="#000" stroke-width="0.08" transform="rotate(-90 526.21 501.90)">f</text>
<text x="552.87" y="501.90" font-size="6.4" text-anchor="end" fill="#000" stroke="#000" stroke-width="0.08" transform="rotate(-90 552.87 501.90)">b</text>
<text x="579.53" y="501.90" font-size="6.4" text-anchor="end" fill="#000" stroke="#000" stroke-width="0.08" transform="rotate(-90 579.53 501.90)">e</text>
<text x="606.19" y="501.90" font-size="6.4" text-anchor="end" fill="#000" stroke="#000" stroke-width="0.08" transform="rotate(-90 606.19 501.90)">g</text>
<text x="632.85" y="501.90" font-size="6.4" text-anchor="end" fill="#000" stroke="#000" stroke-width="0.08" transform="rotate(-90 632.85 501.90)">d</text>
<text x="660.80" y="501.90" font-size="6.4" text-anchor="end" fill="#000" stroke="#000" stroke-width="0.08" transform="rotate(-90 660.80 501.90)">rp</text>
<text x="681.00" y="501.90" font-size="6.4" text-anchor="end" fill="#000" stroke="#000" stroke-width="0.08" transform="rotate(-90 681.00 501.90)">rv</text>
<text x="692.40" y="501.90" font-size="6.4" text-anchor="end" fill="#000" stroke="#000" stroke-width="0.08" transform="rotate(-90 692.40 501.90)">rows1</text>
<text x="706.70" y="268.60" font-size="4.9" font-weight="bold" text-anchor="start" fill="#000" stroke="#000" stroke-width="0.06">value</text>
<defs><linearGradient id="cb4" x1="0" y1="0" x2="0" y2="1"><stop offset="0.000" stop-color="#67001f"/><stop offset="0.030" stop-color="#67001f"/><stop offset="0.156" stop-color="#a3142a"/><stop offset="0.220" stop-color="#d05045"/><stop offset="0.265" stop-color="#ee9677"/><stop offset="0.365" stop-color="#fbd9c7"/><stop offset="0.470" stop-color="#f6f6f6"/><stop offset="0.506" stop-color="#eef3f6"/><stop offset="0.573" stop-color="#b5d6e8"/><stop offset="0.656" stop-color="#4a97c5"/><stop offset="0.740" stop-color="#1f63a8"/><stop offset="0.820" stop-color="#0b3d78"/><stop offset="0.906" stop-color="#053061"/><stop offset="1.000" stop-color="#053061"/></linearGradient></defs>
<rect x="706.30" y="270.80" width="5.60" height="31.30" fill="url(#cb4)" stroke="#222" stroke-width="0.4"/>
<path d="M706.30 272.80h1.0M711.90 272.80h-1.0M706.30 279.80h1.0M711.90 279.80h-1.0M706.30 286.70h1.0M711.90 286.70h-1.0M706.30 293.80h1.0M711.90 293.80h-1.0M706.30 300.50h1.0M711.90 300.50h-1.0" fill="none" stroke="#111" stroke-width="0.4"/>
<text x="713.50" y="274.50" font-size="4.9" text-anchor="start" fill="#000" stroke="#000" stroke-width="0.06">1</text>
<text x="713.50" y="281.50" font-size="4.9" text-anchor="start" fill="#000" stroke="#000" stroke-width="0.06">0.5</text>
<text x="713.50" y="288.40" font-size="4.9" text-anchor="start" fill="#000" stroke="#000" stroke-width="0.06">0</text>
<text x="713.50" y="295.50" font-size="4.9" text-anchor="start" fill="#000" stroke="#000" stroke-width="0.06">-0.5</text>
<text x="713.50" y="302.20" font-size="4.9" text-anchor="start" fill="#000" stroke="#000" stroke-width="0.06">-1</text>
<text x="706.70" y="310.40" font-size="4.9" font-weight="bold" text-anchor="start" fill="#000" stroke="#000" stroke-width="0.06">p2</text>
<rect x="706.40" y="313.40" width="5.50" height="5.86" fill="#a6cee3" stroke="#222" stroke-width="0.55"/>
<text x="713.50" y="318.09" font-size="4.9" text-anchor="start" fill="#000" stroke="#000" stroke-width="0.06">X</text>
<rect x="706.40" y="319.26" width="5.50" height="5.86" fill="#1f78b4" stroke="#222" stroke-width="0.55"/>
<text x="713.50" y="323.95" font-size="4.9" text-anchor="start" fill="#000" stroke="#000" stroke-width="0.06">Y</text>
<rect x="706.40" y="325.12" width="5.50" height="5.86" fill="#b2df8a" stroke="#222" stroke-width="0.55"/>
<text x="713.50" y="329.81" font-size="4.9" text-anchor="start" fill="#000" stroke="#000" stroke-width="0.06">Z</text>
<text x="706.70" y="340.40" font-size="4.9" font-weight="bold" text-anchor="start" fill="#000" stroke="#000" stroke-width="0.06">F1</text>
<rect x="706.40" y="342.90" width="5.50" height="5.80" fill="#a6cee3" stroke="#222" stroke-width="0.55"/>
<text x="713.50" y="347.56" font-size="4.9" text-anchor="start" fill="#000" stroke="#000" stroke-width="0.06">f</text>
<rect x="706.40" y="348.70" width="5.50" height="5.80" fill="#1f78b4" stroke="#222" stroke-width="0.55"/>
<text x="713.50" y="353.36" font-size="4.9" text-anchor="start" fill="#000" stroke="#000" stroke-width="0.06">c</text>
<rect x="706.40" y="354.50" width="5.50" height="5.80" fill="#b2df8a" stroke="#222" stroke-width="0.55"/>
<text x="713.50" y="359.16" font-size="4.9" text-anchor="start" fill="#000" stroke="#000" stroke-width="0.06">g</text>
<rect x="706.40" y="360.30" width="5.50" height="5.80" fill="#33a02c" stroke="#222" stroke-width="0.55"/>
<text x="713.50" y="364.96" font-size="4.9" text-anchor="start" fill="#000" stroke="#000" stroke-width="0.06">b</text>
<rect x="706.40" y="366.10" width="5.50" height="5.80" fill="#fdbf6f" stroke="#222" stroke-width="0.55"/>
<text x="713.50" y="370.76" font-size="4.9" text-anchor="start" fill="#000" stroke="#000" stroke-width="0.06">a</text>
<rect x="706.40" y="371.90" width="5.50" height="5.80" fill="#ff7f00" stroke="#222" stroke-width="0.55"/>
<text x="713.50" y="376.56" font-size="4.9" text-anchor="start" fill="#000" stroke="#000" stroke-width="0.06">h</text>
<rect x="706.40" y="377.70" width="5.50" height="5.80" fill="#fb9a99" stroke="#222" stroke-width="0.55"/>
<text x="713.50" y="382.36" font-size="4.9" text-anchor="start" fill="#000" stroke="#000" stroke-width="0.06">e</text>
<rect x="706.40" y="383.50" width="5.50" height="5.80" fill="#e31a1c" stroke="#222" stroke-width="0.55"/>
<text x="713.50" y="388.16" font-size="4.9" text-anchor="start" fill="#000" stroke="#000" stroke-width="0.06">d</text>
<text x="706.70" y="398.20" font-size="4.9" font-weight="bold" text-anchor="start" fill="#000" stroke="#000" stroke-width="0.06">rp</text>
<rect x="706.40" y="401.10" width="5.50" height="5.86" fill="#a6cee3" stroke="#222" stroke-width="0.55"/>
<text x="713.50" y="405.79" font-size="4.9" text-anchor="start" fill="#000" stroke="#000" stroke-width="0.06">Y</text>
<rect x="706.40" y="406.96" width="5.50" height="5.86" fill="#1f78b4" stroke="#222" stroke-width="0.55"/>
<text x="713.50" y="411.65" font-size="4.9" text-anchor="start" fill="#000" stroke="#000" stroke-width="0.06">Z</text>
<rect x="706.40" y="412.82" width="5.50" height="5.86" fill="#b2df8a" stroke="#222" stroke-width="0.55"/>
<text x="713.50" y="417.51" font-size="4.9" text-anchor="start" fill="#000" stroke="#000" stroke-width="0.06">X</text>
<text x="706.70" y="427.50" font-size="4.9" font-weight="bold" text-anchor="start" fill="#000" stroke="#000" stroke-width="0.06">rv</text>
<rect x="706.40" y="430.40" width="5.50" height="5.76" fill="#a6cee3" stroke="#222" stroke-width="0.55"/>
<text x="713.50" y="435.04" font-size="4.9" text-anchor="start" fill="#000" stroke="#000" stroke-width="0.06">F1</text>
<rect x="706.40" y="436.16" width="5.50" height="5.76" fill="#1f78b4" stroke="#222" stroke-width="0.55"/>
<text x="713.50" y="440.80" font-size="4.9" text-anchor="start" fill="#000" stroke="#000" stroke-width="0.06">F2</text>
<rect x="706.40" y="441.92" width="5.50" height="5.76" fill="#b2df8a" stroke="#222" stroke-width="0.55"/>
<text x="713.50" y="446.56" font-size="4.9" text-anchor="start" fill="#000" stroke="#000" stroke-width="0.06">F3</text>
<rect x="706.40" y="447.68" width="5.50" height="5.76" fill="#33a02c" stroke="#222" stroke-width="0.55"/>
<text x="713.50" y="452.32" font-size="4.9" text-anchor="start" fill="#000" stroke="#000" stroke-width="0.06">F4</text>
<rect x="706.40" y="453.44" width="5.50" height="5.76" fill="#fdbf6f" stroke="#222" stroke-width="0.55"/>
<text x="713.50" y="458.08" font-size="4.9" text-anchor="start" fill="#000" stroke="#000" stroke-width="0.06">F5</text>
<rect x="706.40" y="459.20" width="5.50" height="5.76" fill="#ff7f00" stroke="#222" stroke-width="0.55"/>
<text x="713.50" y="463.84" font-size="4.9" text-anchor="start" fill="#000" stroke="#000" stroke-width="0.06">F6</text>
<text x="706.70" y="474.70" font-size="4.9" font-weight="bold" text-anchor="start" fill="#000" stroke="#000" stroke-width="0.06">rows1</text>
<rect x="706.40" y="476.80" width="5.50" height="5.76" fill="#a6cee3" stroke="#222" stroke-width="0.55"/>
<text x="713.50" y="481.44" font-size="4.9" text-anchor="start" fill="#000" stroke="#000" stroke-width="0.06">F1</text>
<rect x="706.40" y="482.56" width="5.50" height="5.76" fill="#1f78b4" stroke="#222" stroke-width="0.55"/>
<text x="713.50" y="487.20" font-size="4.9" text-anchor="start" fill="#000" stroke="#000" stroke-width="0.06">F2</text>
<rect x="706.40" y="488.32" width="5.50" height="5.76" fill="#b2df8a" stroke="#222" stroke-width="0.55"/>
<text x="713.50" y="492.96" font-size="4.9" text-anchor="start" fill="#000" stroke="#000" stroke-width="0.06">F3</text>
<rect x="706.40" y="494.08" width="5.50" height="5.76" fill="#33a02c" stroke="#222" stroke-width="0.55"/>
<text x="713.50" y="498.72" font-size="4.9" text-anchor="start" fill="#000" stroke="#000" stroke-width="0.06">F4</text>
<rect x="706.40" y="499.84" width="5.50" height="5.76" fill="#fdbf6f" stroke="#222" stroke-width="0.55"/>
<text x="713.50" y="504.48" font-size="4.9" text-anchor="start" fill="#000" stroke="#000" stroke-width="0.06">F5</text>
<rect x="706.40" y="505.60" width="5.50" height="5.76" fill="#ff7f00" stroke="#222" stroke-width="0.55"/>
<text x="713.50" y="510.24" font-size="4.9" text-anchor="start" fill="#000" stroke="#000" stroke-width="0.06">F6</text>
</svg>
</body></html>
